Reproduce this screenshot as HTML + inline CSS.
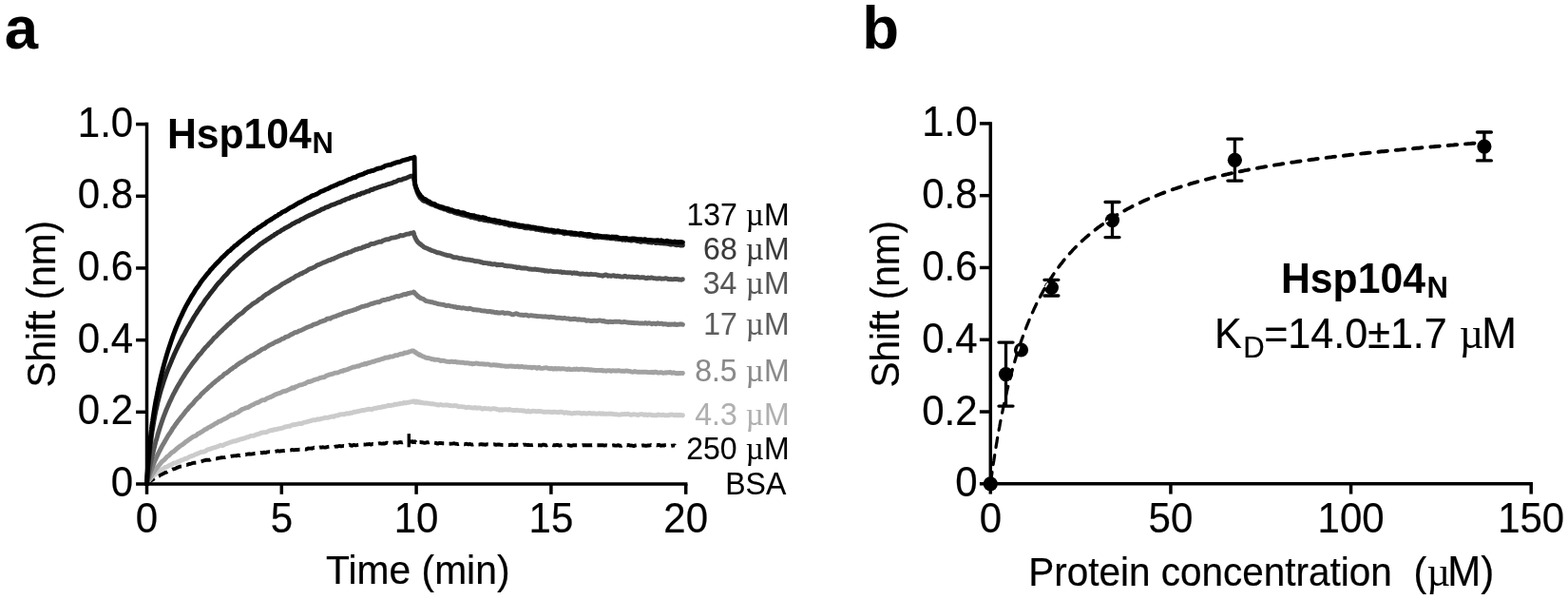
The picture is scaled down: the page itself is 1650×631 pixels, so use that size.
<!DOCTYPE html>
<html lang="en"><head><meta charset="utf-8"><title>Hsp104N binding</title>
<style>html,body{margin:0;padding:0;background:#fff}body{width:1650px;height:631px;overflow:hidden}svg{display:block}text{font-family:"Liberation Sans",sans-serif;fill:#000;stroke:#000;stroke-width:0.2px}.mu{font-family:"Liberation Serif",serif}.b{font-weight:bold}</style></head><body>
<svg width="1650" height="631" viewBox="0 0 1650 631">
<rect width="1650" height="631" fill="#fff"/>
<text x="4.84" y="51.40" font-size="63.5" style="stroke:none" class="b">a</text>
<text x="907.21" y="51.40" font-size="63.5" style="stroke:none" class="b">b</text>
<g id="left-curves" fill="none" stroke-linejoin="round" stroke-linecap="round">
<path d="M154.4,509.0 154.7,508.7 155.0,508.3 155.3,508.0 155.4,508.0 155.6,507.9 155.9,507.9 156.2,507.6 156.4,507.3 156.6,507.2 156.9,507.1 157.2,506.9 157.4,506.6 157.5,506.5 157.8,506.4 158.1,506.1 158.4,505.7 158.7,505.5 159.0,505.2 159.3,505.0 159.4,505.0 159.6,504.9 159.9,504.8 160.2,504.7 160.4,504.6 160.6,504.2 160.9,503.9 161.2,504.0 161.4,503.9 161.5,503.7 161.8,503.4 162.1,503.3 162.4,503.1 162.7,503.1 163.0,502.9 163.3,502.6 163.4,502.7 163.6,502.5 163.9,502.2 164.2,502.1 164.4,502.0 164.6,501.8 164.9,501.6 165.2,501.7 165.4,501.4 165.5,501.3 165.8,501.3 166.1,501.0 166.4,501.0 167.4,500.6 168.4,499.7 169.4,499.1 170.4,498.8 171.4,498.3 172.4,497.8 173.4,497.3 174.4,496.8 175.4,496.6 176.4,496.0 177.4,495.4 178.4,495.0 179.4,494.6 180.4,494.1 181.4,493.6 182.4,493.3 183.4,493.1 184.4,492.9 185.4,492.3 186.4,491.7 187.4,491.6 188.4,491.1 189.4,490.6 190.4,490.6 191.4,490.5 192.4,490.3 193.4,489.8 194.4,489.3 195.4,489.0 196.4,489.0 197.4,488.7 198.4,488.2 199.4,488.0 200.4,487.8 201.4,487.5 202.4,487.1 203.4,486.9 204.4,486.7 205.4,486.7 206.4,486.6 207.4,486.2 208.4,486.0 209.4,485.7 210.4,485.5 211.4,485.4 212.4,485.1 213.4,484.7 214.4,484.5 215.4,484.2 216.4,483.7 217.4,483.7 218.4,483.7 219.4,483.6 220.4,483.8 221.4,483.5 222.4,482.9 223.4,482.9 224.4,482.9 225.4,482.7 226.4,482.4 227.4,482.4 228.4,482.3 229.4,481.9 230.4,481.6 231.4,481.6 232.4,481.3 233.4,481.2 234.4,481.1 235.4,481.1 236.4,481.1 237.4,480.8 238.4,480.5 239.4,480.4 240.4,480.0 241.4,479.7 242.4,479.9 243.4,479.7 244.4,479.6 245.4,479.5 246.4,479.4 247.4,479.4 248.4,479.3 249.4,479.3 250.4,478.8 251.4,478.9 252.4,479.2 253.4,478.9 254.4,478.5 255.4,478.4 256.4,478.1 257.4,478.2 258.4,478.2 259.4,477.9 260.4,477.7 261.4,477.5 262.4,477.3 263.4,477.5 264.4,477.6 265.4,477.4 266.4,477.3 267.4,477.0 268.4,476.8 269.4,476.7 270.4,476.7 271.4,476.6 272.4,476.4 273.4,476.2 274.4,476.0 275.4,476.4 276.4,476.3 277.4,475.8 278.4,475.8 279.4,476.1 280.4,475.7 281.4,475.4 282.4,475.4 283.4,475.1 284.4,475.2 285.4,475.4 286.4,475.2 287.4,474.9 288.4,474.9 289.4,474.9 290.4,474.7 291.4,474.5 292.4,474.2 293.4,474.5 294.4,474.5 295.4,474.3 296.4,474.3 297.4,474.1 298.4,473.9 299.4,474.0 300.4,473.9 301.4,473.7 302.4,473.7 303.4,473.8 304.4,473.8 305.4,473.6 306.4,473.3 307.4,472.9 308.4,473.1 309.4,473.4 310.4,473.1 311.4,473.0 312.4,473.0 313.4,473.0 314.4,472.9 315.4,472.7 316.4,472.7 317.4,472.5 318.4,472.3 319.4,472.5 320.4,472.4 321.4,472.5 322.4,472.6 323.4,472.0 324.4,471.4 325.4,471.6 326.4,471.6 327.4,471.4 328.4,471.7 329.4,471.3 330.4,470.7 331.4,471.0 332.4,471.3 333.4,471.1 334.4,471.0 335.4,470.8 336.4,470.5 337.4,470.5 338.4,470.6 339.4,470.2 340.4,470.4 341.4,470.6 342.4,470.5 343.4,470.3 344.4,470.0 345.4,469.9 346.4,469.8 347.4,470.0 348.4,469.9 349.4,469.9 350.4,470.0 351.4,470.2 352.4,469.8 353.4,469.5 354.4,469.7 355.4,469.5 356.4,469.2 357.4,469.0 358.4,469.3 359.4,469.3 360.4,469.1 361.4,469.0 362.4,469.1 363.4,469.1 364.4,468.5 365.4,468.3 366.4,468.3 367.4,467.8 368.4,467.9 369.4,468.6 370.4,468.7 371.4,468.2 372.4,467.9 373.4,468.3 374.4,468.4 375.4,468.1 376.4,468.0 377.4,467.9 378.4,468.0 379.4,468.0 380.4,467.9 381.4,467.5 382.4,467.5 383.4,467.5 384.4,467.6 385.4,467.4 386.4,467.1 387.4,467.3 388.4,467.0 389.4,467.2 390.4,467.6 391.4,467.2 392.4,467.0 393.4,467.1 394.4,466.5 395.4,466.4 396.4,466.7 397.4,466.6 398.4,466.4 399.4,466.3 400.4,466.4 401.4,466.6 402.4,466.6 403.4,466.3 404.4,466.5 405.4,466.3 406.4,465.9 407.4,465.6 408.4,465.9 409.4,466.3 410.4,466.1 411.4,466.0 412.4,465.8 413.4,465.7 414.4,465.6 415.4,465.4 416.4,465.4 417.4,465.7 418.4,465.7 419.4,465.4 420.4,465.1 421.4,465.0 422.4,465.3 423.4,465.4 424.4,465.1 425.4,464.9 426.4,464.6 427.4,464.6 428.4,464.9 429.4,464.8 430.4,464.5 431.4,464.5 432.4,464.5 433.0,464.2 433.1,464.2 433.3,464.3 433.5,464.5 433.7,464.6 433.9,464.5 434.1,464.9 434.3,464.8 434.5,464.4 434.7,464.5 434.9,464.7 435.1,464.5 435.3,464.6 435.5,465.1 435.7,465.0 435.9,464.6 436.1,464.5 436.3,464.6 436.5,464.6 436.7,464.4 436.9,464.8 437.1,464.8 437.3,464.8 437.5,465.2 437.7,465.1 437.9,465.0 438.1,465.3 438.4,465.2 438.6,464.7 438.8,464.6 439.0,464.7 439.2,465.2 439.4,465.3 439.6,464.9 439.8,464.7 440.0,464.7 440.2,464.9 440.4,465.0 440.6,465.0 440.8,465.1 441.0,465.0 442.0,465.0 443.0,465.2 444.0,465.2 445.0,465.4 446.0,465.7 447.0,465.8 448.0,465.6 449.0,465.2 450.0,465.3 451.0,465.4 452.0,465.1 453.0,465.6 454.0,466.0 455.0,465.9 456.0,465.6 457.0,465.6 458.0,465.8 459.0,466.0 460.0,466.5 461.0,466.5 462.0,466.0 463.0,465.9 464.0,466.0 465.0,466.2 466.0,466.1 467.0,466.2 468.0,466.2 469.0,466.4 470.0,466.8 471.0,466.9 472.0,466.6 473.0,466.6 474.0,466.7 475.0,466.6 476.0,466.6 477.0,466.4 478.0,466.3 479.0,466.7 480.0,466.9 481.0,466.8 482.0,467.1 483.0,466.8 484.0,466.5 485.0,466.9 486.0,467.1 487.0,467.0 488.0,467.2 489.0,467.3 490.0,466.9 491.0,466.7 492.0,467.1 493.0,467.4 494.0,466.9 495.0,467.1 496.0,467.6 497.0,467.6 498.0,467.5 499.0,467.2 500.0,467.1 501.0,467.6 502.0,467.8 503.0,467.6 504.0,467.6 505.0,467.4 506.0,467.2 507.0,467.1 508.0,467.6 509.0,467.5 510.0,467.5 511.0,467.8 512.0,467.4 513.0,467.3 514.0,467.4 515.0,467.5 516.0,467.5 517.0,467.4 518.0,467.5 519.0,467.4 520.0,467.3 521.0,467.5 522.0,467.9 523.0,467.6 524.0,467.5 525.0,467.7 526.0,467.5 527.0,467.8 528.0,467.9 529.0,468.0 530.0,468.0 531.0,467.8 532.0,467.9 533.0,467.7 534.0,467.9 535.0,468.0 536.0,468.0 537.0,468.0 538.0,467.7 539.0,467.7 540.0,467.9 541.0,468.1 542.0,468.0 543.0,467.8 544.0,467.7 545.0,467.8 546.0,467.9 547.0,467.5 548.0,467.7 549.0,468.2 550.0,468.0 551.0,467.6 552.0,467.7 553.0,467.7 554.0,467.9 555.0,468.0 556.0,467.8 557.0,468.1 558.0,468.1 559.0,468.1 560.0,468.0 561.0,467.8 562.0,467.6 563.0,468.2 564.0,468.4 565.0,468.1 566.0,468.2 567.0,468.2 568.0,468.2 569.0,468.5 570.0,468.3 571.0,467.7 572.0,467.8 573.0,467.8 574.0,468.1 575.0,468.5 576.0,468.2 577.0,467.8 578.0,467.9 579.0,468.4 580.0,468.0 581.0,467.9 582.0,468.2 583.0,468.3 584.0,468.3 585.0,468.0 586.0,468.0 587.0,467.8 588.0,468.4 589.0,468.7 590.0,468.4 591.0,468.1 592.0,467.8 593.0,467.9 594.0,468.2 595.0,468.3 596.0,468.3 597.0,468.1 598.0,468.1 599.0,468.3 600.0,468.6 601.0,468.9 602.0,468.6 603.0,468.2 604.0,468.2 605.0,468.2 606.0,468.1 607.0,468.2 608.0,468.2 609.0,468.3 610.0,468.5 611.0,468.4 612.0,468.4 613.0,468.2 614.0,468.1 615.0,468.2 616.0,468.2 617.0,468.3 618.0,468.4 619.0,468.2 620.0,468.2 621.0,468.2 622.0,468.1 623.0,468.2 624.0,468.0 625.0,468.1 626.0,468.5 627.0,468.4 628.0,468.3 629.0,468.3 630.0,468.2 631.0,468.2 632.0,468.3 633.0,468.3 634.0,468.2 635.0,468.3 636.0,468.5 637.0,468.4 638.0,468.3 639.0,468.5 640.0,468.2 641.0,468.2 642.0,468.6 643.0,468.5 644.0,468.6 645.0,468.4 646.0,468.3 647.0,468.5 648.0,468.6 649.0,468.6 650.0,468.2 651.0,468.3 652.0,468.8 653.0,468.8 654.0,468.7 655.0,468.2 656.0,468.4 657.0,468.6 658.0,468.0 659.0,468.1 660.0,468.3 661.0,468.0 662.0,468.1 663.0,468.6 664.0,468.6 665.0,468.5 666.0,468.8 667.0,469.1 668.0,468.7 669.0,468.4 670.0,468.2 671.0,468.1 672.0,468.4 673.0,468.6 674.0,468.6 675.0,468.7 676.0,468.5 677.0,468.3 678.0,468.6 679.0,468.7 680.0,468.8 681.0,468.7 682.0,468.5 683.0,468.5 684.0,468.4 685.0,468.0 686.0,468.3 687.0,468.6 688.0,468.5 689.0,468.2 690.0,468.1 691.0,468.3 692.0,468.2 693.0,467.9 694.0,468.0 695.0,468.6 696.0,468.7 697.0,468.5 698.0,468.4 699.0,468.6 700.0,468.1 701.0,468.0 702.0,468.6 703.0,468.7 704.0,468.9 705.0,469.0 706.0,468.8 707.0,468.6 708.0,468.7 709.0,468.5 710.0,468.4 710.2,468.7" stroke="#000" stroke-width="3.9" stroke-linecap="butt" stroke-dasharray="10.5 5.5"/>
<path d="M430.3,456.1V470.3" stroke="#000" stroke-width="3.4" stroke-linecap="butt"/>
<path d="M154.4,509.0 154.7,508.4 155.0,508.0 155.3,507.5 155.4,507.4 155.6,506.9 155.9,506.3 156.2,506.0 156.4,505.8 156.6,505.7 156.9,505.1 157.2,504.5 157.4,504.4 157.5,504.3 157.8,503.7 158.1,503.5 158.4,503.4 158.7,502.9 159.0,502.5 159.3,502.2 159.4,502.2 159.6,501.9 159.9,501.5 160.2,501.0 160.4,501.0 160.6,500.8 160.9,500.6 161.2,500.4 161.4,500.0 161.5,499.9 161.8,499.7 162.1,499.5 162.4,499.2 162.7,498.8 163.0,498.8 163.3,498.8 163.4,498.9 163.6,498.4 163.9,498.0 164.2,497.9 164.4,497.8 164.6,497.3 164.9,497.1 165.2,497.1 165.4,496.8 165.5,496.5 165.8,496.2 166.1,496.3 166.4,496.1 167.4,495.4 168.4,494.9 169.4,494.3 170.4,493.7 171.4,493.1 172.4,492.5 173.4,491.8 174.4,491.3 175.4,491.0 176.4,490.6 177.4,489.9 178.4,489.3 179.4,488.9 180.4,488.6 181.4,487.9 182.4,487.2 183.4,487.0 184.4,487.0 185.4,486.8 186.4,486.0 187.4,485.5 188.4,485.4 189.4,484.8 190.4,484.1 191.4,483.8 192.4,483.6 193.4,483.1 194.4,482.5 195.4,482.3 196.4,482.2 197.4,481.6 198.4,481.1 199.4,480.3 200.4,479.9 201.4,479.8 202.4,479.3 203.4,479.1 204.4,478.6 205.4,477.8 206.4,477.6 207.4,477.3 208.4,476.8 209.4,476.5 210.4,476.1 211.4,475.5 212.4,475.3 213.4,475.4 214.4,475.0 215.4,474.9 216.4,474.4 217.4,473.4 218.4,472.9 219.4,472.6 220.4,472.4 221.4,472.2 222.4,471.6 223.4,471.3 224.4,471.0 225.4,470.7 226.4,470.6 227.4,470.1 228.4,469.8 229.4,469.4 230.4,469.0 231.4,468.5 232.4,468.2 233.4,468.5 234.4,468.5 235.4,468.0 236.4,467.5 237.4,466.9 238.4,466.7 239.4,466.4 240.4,465.9 241.4,465.5 242.4,465.2 243.4,464.9 244.4,464.5 245.4,464.1 246.4,463.8 247.4,464.0 248.4,463.7 249.4,463.0 250.4,462.8 251.4,462.7 252.4,462.1 253.4,461.7 254.4,461.7 255.4,461.5 256.4,461.0 257.4,460.9 258.4,460.5 259.4,460.0 260.4,459.7 261.4,459.7 262.4,459.1 263.4,458.5 264.4,458.4 265.4,458.4 266.4,458.3 267.4,458.1 268.4,457.5 269.4,457.1 270.4,457.0 271.4,456.5 272.4,456.4 273.4,456.0 274.4,455.3 275.4,455.2 276.4,455.0 277.4,454.7 278.4,454.7 279.4,454.6 280.4,454.5 281.4,454.2 282.4,453.4 283.4,453.0 284.4,452.9 285.4,452.5 286.4,452.5 287.4,452.3 288.4,451.7 289.4,451.6 290.4,451.7 291.4,451.4 292.4,451.2 293.4,451.0 294.4,450.7 295.4,450.5 296.4,450.4 297.4,450.0 298.4,449.7 299.4,449.2 300.4,448.8 301.4,448.8 302.4,448.6 303.4,448.2 304.4,448.2 305.4,448.2 306.4,447.4 307.4,446.9 308.4,446.8 309.4,446.8 310.4,446.5 311.4,446.3 312.4,446.1 313.4,445.9 314.4,445.7 315.4,445.4 316.4,445.4 317.4,445.6 318.4,445.1 319.4,444.3 320.4,444.1 321.4,444.1 322.4,443.8 323.4,443.4 324.4,443.3 325.4,443.0 326.4,442.6 327.4,442.5 328.4,442.1 329.4,441.7 330.4,441.8 331.4,441.8 332.4,441.6 333.4,441.1 334.4,440.8 335.4,441.1 336.4,441.0 337.4,440.6 338.4,440.2 339.4,440.1 340.4,439.9 341.4,439.4 342.4,439.2 343.4,439.4 344.4,439.4 345.4,439.1 346.4,438.8 347.4,438.5 348.4,438.3 349.4,437.9 350.4,438.2 351.4,438.2 352.4,437.5 353.4,437.1 354.4,437.0 355.4,437.1 356.4,436.7 357.4,436.0 358.4,435.8 359.4,435.9 360.4,435.8 361.4,435.8 362.4,435.7 363.4,435.4 364.4,434.9 365.4,434.7 366.4,435.1 367.4,434.9 368.4,434.4 369.4,434.1 370.4,434.2 371.4,433.8 372.4,433.2 373.4,433.3 374.4,433.2 375.4,432.9 376.4,432.6 377.4,432.5 378.4,432.2 379.4,432.1 380.4,431.7 381.4,431.5 382.4,431.7 383.4,431.3 384.4,430.9 385.4,431.0 386.4,430.7 387.4,430.4 388.4,430.2 389.4,430.2 390.4,430.6 391.4,430.6 392.4,430.0 393.4,429.6 394.4,429.4 395.4,429.1 396.4,429.2 397.4,428.8 398.4,428.5 399.4,428.6 400.4,428.4 401.4,428.3 402.4,427.7 403.4,427.6 404.4,427.7 405.4,427.4 406.4,427.2 407.4,426.9 408.4,426.3 409.4,426.4 410.4,426.7 411.4,426.4 412.4,426.1 413.4,426.1 414.4,425.8 415.4,425.3 416.4,425.2 417.4,425.4 418.4,425.0 419.4,424.8 420.4,424.8 421.4,424.2 422.4,424.4 423.4,424.4 424.4,423.7 425.4,423.5 426.4,423.8 427.4,423.9 428.4,423.4 429.4,423.1 430.4,423.2 431.4,422.8 432.4,422.6 433.4,422.5 434.4,422.2 434.8,422.0 434.9,422.2 435.1,422.3 435.3,422.2 435.5,422.1 435.7,422.5 435.9,422.6 436.1,422.6 436.3,422.8 436.5,422.8 436.7,423.0 436.9,422.8 437.1,422.5 437.3,422.7 437.5,422.9 437.7,423.3 437.9,422.6 438.1,422.1 438.3,422.7 438.5,423.0 438.7,423.1 438.9,422.9 439.1,422.9 439.3,423.1 439.5,423.0 439.7,423.1 439.9,422.7 440.2,422.7 440.4,422.9 440.6,423.0 440.8,423.2 441.0,422.9 441.2,423.0 441.4,423.0 441.6,422.8 441.8,422.7 442.0,422.9 442.2,423.3 442.4,423.5 442.6,423.4 442.8,423.5 443.0,423.5 444.0,423.4 445.0,423.7 446.0,424.0 447.0,424.0 448.0,423.8 449.0,424.0 450.0,424.2 451.0,424.1 452.0,424.4 453.0,424.6 454.0,424.7 455.0,424.7 456.0,424.8 457.0,425.1 458.0,425.1 459.0,425.5 460.0,425.8 461.0,425.8 462.0,426.0 463.0,425.7 464.0,425.5 465.0,425.8 466.0,426.0 467.0,426.1 468.0,426.1 469.0,425.8 470.0,426.0 471.0,426.0 472.0,426.2 473.0,426.6 474.0,426.5 475.0,426.7 476.0,426.9 477.0,426.8 478.0,426.5 479.0,426.7 480.0,426.7 481.0,426.8 482.0,427.6 483.0,427.7 484.0,427.6 485.0,427.6 486.0,427.6 487.0,427.9 488.0,427.9 489.0,428.2 490.0,428.6 491.0,428.6 492.0,428.4 493.0,428.2 494.0,428.4 495.0,428.6 496.0,428.8 497.0,428.9 498.0,429.1 499.0,428.8 500.0,428.5 501.0,429.1 502.0,429.2 503.0,428.9 504.0,429.0 505.0,429.0 506.0,429.1 507.0,430.0 508.0,430.2 509.0,429.6 510.0,429.3 511.0,429.5 512.0,429.9 513.0,429.9 514.0,429.6 515.0,430.0 516.0,430.4 517.0,430.2 518.0,429.9 519.0,429.7 520.0,429.9 521.0,429.8 522.0,430.1 523.0,430.5 524.0,430.5 525.0,431.1 526.0,431.3 527.0,430.7 528.0,430.7 529.0,431.2 530.0,431.0 531.0,430.6 532.0,430.8 533.0,430.7 534.0,431.1 535.0,431.0 536.0,430.5 537.0,431.0 538.0,431.2 539.0,431.4 540.0,431.5 541.0,431.5 542.0,431.7 543.0,431.4 544.0,431.2 545.0,431.6 546.0,431.6 547.0,431.9 548.0,431.7 549.0,431.6 550.0,432.0 551.0,432.2 552.0,432.0 553.0,432.4 554.0,433.0 555.0,432.4 556.0,432.0 557.0,432.9 558.0,433.0 559.0,432.6 560.0,432.4 561.0,432.3 562.0,432.4 563.0,432.4 564.0,432.6 565.0,432.7 566.0,432.5 567.0,432.4 568.0,432.5 569.0,432.6 570.0,432.7 571.0,433.1 572.0,433.3 573.0,433.2 574.0,433.2 575.0,433.2 576.0,433.1 577.0,433.1 578.0,433.3 579.0,433.2 580.0,433.4 581.0,433.6 582.0,433.3 583.0,433.2 584.0,433.3 585.0,433.4 586.0,433.5 587.0,433.7 588.0,433.7 589.0,433.1 590.0,433.1 591.0,433.2 592.0,433.4 593.0,434.1 594.0,434.3 595.0,433.8 596.0,433.6 597.0,434.2 598.0,434.5 599.0,434.2 600.0,434.4 601.0,434.9 602.0,435.0 603.0,434.6 604.0,434.4 605.0,434.5 606.0,434.4 607.0,434.1 608.0,434.3 609.0,434.3 610.0,434.3 611.0,434.6 612.0,435.1 613.0,434.9 614.0,434.5 615.0,434.7 616.0,434.8 617.0,435.1 618.0,434.9 619.0,434.6 620.0,434.4 621.0,434.4 622.0,434.9 623.0,435.1 624.0,434.8 625.0,434.7 626.0,435.0 627.0,435.2 628.0,435.1 629.0,435.0 630.0,434.8 631.0,434.6 632.0,435.3 633.0,435.1 634.0,434.8 635.0,435.3 636.0,435.3 637.0,435.1 638.0,435.2 639.0,435.4 640.0,435.4 641.0,435.0 642.0,435.1 643.0,435.3 644.0,435.2 645.0,435.5 646.0,435.7 647.0,435.9 648.0,435.7 649.0,435.7 650.0,436.1 651.0,436.1 652.0,436.2 653.0,436.0 654.0,435.7 655.0,435.9 656.0,435.7 657.0,435.5 658.0,435.7 659.0,435.6 660.0,435.4 661.0,435.3 662.0,435.7 663.0,436.1 664.0,436.3 665.0,436.1 666.0,435.9 667.0,435.8 668.0,435.9 669.0,436.0 670.0,436.1 671.0,436.5 672.0,436.4 673.0,435.8 674.0,435.6 675.0,435.6 676.0,435.6 677.0,436.2 678.0,436.5 679.0,435.9 680.0,436.0 681.0,436.6 682.0,436.4 683.0,436.0 684.0,436.0 685.0,436.3 686.0,436.5 687.0,436.7 688.0,436.8 689.0,436.8 690.0,436.9 691.0,436.8 692.0,436.2 693.0,436.0 694.0,436.4 695.0,436.4 696.0,436.5 697.0,436.5 698.0,436.2 699.0,436.6 700.0,436.9 701.0,436.7 702.0,436.7 703.0,436.9 704.0,436.8 705.0,436.1 706.0,435.9 707.0,436.3 708.0,436.3 709.0,436.4 710.0,436.9 711.0,436.7 712.0,436.3 713.0,436.8 714.0,436.9 715.0,436.3 716.0,436.4 717.0,436.8 718.0,436.6 718.4,436.7" stroke="#cbcbcb" stroke-width="4.9"/>
<path d="M154.4,509.0 154.7,508.4 155.0,507.7 155.3,507.1 155.4,507.0 155.6,506.7 155.9,506.1 156.2,505.4 156.4,505.2 156.6,504.8 156.9,504.3 157.2,503.9 157.4,503.5 157.5,503.3 157.8,502.7 158.1,502.1 158.4,501.6 158.7,501.2 159.0,500.8 159.3,500.3 159.4,500.2 159.6,499.9 159.9,499.3 160.2,498.6 160.4,498.3 160.6,498.0 160.9,497.8 161.2,497.4 161.4,497.0 161.5,497.1 161.8,496.7 162.1,496.3 162.4,495.7 162.7,495.1 163.0,494.7 163.3,494.3 163.4,494.2 163.6,493.9 163.9,493.6 164.2,493.1 164.4,492.8 164.6,492.6 164.9,492.2 165.2,492.0 165.4,491.7 165.5,491.6 165.8,491.1 166.1,490.7 166.4,490.4 167.4,489.2 168.4,488.1 169.4,486.7 170.4,485.5 171.4,484.7 172.4,484.0 173.4,483.0 174.4,481.9 175.4,480.7 176.4,479.9 177.4,479.4 178.4,478.3 179.4,477.2 180.4,476.2 181.4,475.5 182.4,475.1 183.4,474.3 184.4,473.3 185.4,472.5 186.4,471.5 187.4,470.8 188.4,470.0 189.4,469.1 190.4,468.5 191.4,467.9 192.4,467.2 193.4,466.5 194.4,465.6 195.4,464.7 196.4,464.1 197.4,463.5 198.4,462.7 199.4,461.9 200.4,461.3 201.4,460.6 202.4,459.8 203.4,459.2 204.4,458.8 205.4,458.4 206.4,458.0 207.4,457.1 208.4,456.1 209.4,455.8 210.4,455.3 211.4,454.5 212.4,454.1 213.4,453.5 214.4,452.6 215.4,451.8 216.4,451.4 217.4,451.1 218.4,450.2 219.4,449.5 220.4,449.2 221.4,448.8 222.4,448.0 223.4,447.5 224.4,447.1 225.4,446.2 226.4,445.5 227.4,445.2 228.4,444.7 229.4,443.8 230.4,443.2 231.4,443.1 232.4,442.8 233.4,441.9 234.4,441.5 235.4,441.1 236.4,440.3 237.4,440.1 238.4,439.6 239.4,438.9 240.4,438.1 241.4,437.6 242.4,437.2 243.4,436.2 244.4,436.2 245.4,436.2 246.4,435.5 247.4,434.8 248.4,434.2 249.4,434.1 250.4,433.6 251.4,432.9 252.4,432.0 253.4,431.5 254.4,430.8 255.4,430.1 256.4,430.0 257.4,429.6 258.4,429.1 259.4,428.7 260.4,428.6 261.4,428.3 262.4,427.5 263.4,427.1 264.4,426.5 265.4,425.8 266.4,425.6 267.4,425.0 268.4,424.4 269.4,423.9 270.4,423.5 271.4,423.5 272.4,422.9 273.4,422.2 274.4,421.8 275.4,421.1 276.4,420.6 277.4,420.6 278.4,420.7 279.4,420.1 280.4,419.2 281.4,418.8 282.4,418.4 283.4,418.0 284.4,417.7 285.4,417.2 286.4,416.8 287.4,416.3 288.4,415.7 289.4,415.1 290.4,414.7 291.4,414.3 292.4,414.0 293.4,413.6 294.4,413.3 295.4,413.1 296.4,412.4 297.4,411.8 298.4,411.5 299.4,411.3 300.4,411.3 301.4,411.0 302.4,410.3 303.4,410.0 304.4,409.4 305.4,409.0 306.4,408.8 307.4,407.7 308.4,407.8 309.4,408.1 310.4,407.2 311.4,406.6 312.4,406.3 313.4,405.9 314.4,405.4 315.4,404.9 316.4,404.8 317.4,404.6 318.4,404.3 319.4,403.9 320.4,403.7 321.4,403.3 322.4,402.6 323.4,402.0 324.4,401.4 325.4,401.6 326.4,401.3 327.4,400.8 328.4,400.6 329.4,400.0 330.4,399.6 331.4,399.3 332.4,398.9 333.4,398.8 334.4,398.6 335.4,398.1 336.4,397.5 337.4,397.3 338.4,397.0 339.4,396.8 340.4,396.9 341.4,396.6 342.4,395.8 343.4,395.3 344.4,394.8 345.4,394.4 346.4,394.0 347.4,393.8 348.4,393.5 349.4,393.4 350.4,393.1 351.4,392.6 352.4,392.1 353.4,392.1 354.4,392.1 355.4,391.8 356.4,391.5 357.4,391.1 358.4,390.6 359.4,390.2 360.4,390.4 361.4,389.7 362.4,389.2 363.4,389.3 364.4,388.9 365.4,388.5 366.4,388.3 367.4,387.7 368.4,387.3 369.4,387.0 370.4,386.5 371.4,386.2 372.4,386.0 373.4,385.8 374.4,385.6 375.4,385.1 376.4,385.0 377.4,385.2 378.4,384.6 379.4,384.1 380.4,383.7 381.4,383.5 382.4,383.3 383.4,382.7 384.4,382.4 385.4,382.9 386.4,382.2 387.4,381.6 388.4,381.7 389.4,381.2 390.4,381.1 391.4,380.6 392.4,380.1 393.4,380.3 394.4,379.9 395.4,379.3 396.4,379.1 397.4,378.8 398.4,378.8 399.4,378.4 400.4,378.0 401.4,377.7 402.4,377.4 403.4,377.3 404.4,376.5 405.4,376.2 406.4,376.2 407.4,375.9 408.4,376.1 409.4,375.7 410.4,375.0 411.4,375.1 412.4,375.1 413.4,374.8 414.4,374.6 415.4,373.9 416.4,373.6 417.4,373.7 418.4,373.6 419.4,373.1 420.4,372.7 421.4,372.4 422.4,372.1 423.4,372.2 424.4,372.0 425.4,371.2 426.4,370.9 427.4,371.0 428.4,370.9 429.4,370.5 430.4,370.0 431.4,369.8 432.4,369.4 433.4,368.9 434.4,369.1 435.2,369.0 435.2,369.0 435.5,369.3 435.7,369.6 435.9,369.6 436.1,369.9 436.3,370.2 436.5,370.0 436.7,370.2 436.9,370.5 437.1,370.4 437.3,370.5 437.5,370.8 437.7,370.7 437.9,370.8 438.1,371.2 438.3,371.3 438.5,371.2 438.7,371.4 438.9,371.7 439.1,371.9 439.3,371.9 439.5,372.1 439.7,372.2 439.9,372.2 440.1,372.7 440.3,372.7 440.6,372.6 440.8,372.9 441.0,373.1 441.2,373.0 441.4,373.2 441.6,373.5 441.8,373.2 442.0,373.1 442.2,373.3 442.4,373.4 442.6,373.5 442.8,373.6 443.0,373.9 443.2,374.0 444.0,374.3 445.0,374.9 446.0,375.2 447.0,375.5 448.0,376.2 449.0,376.5 450.0,376.4 451.0,376.6 452.0,376.8 453.0,377.1 454.0,377.7 455.0,377.7 456.0,377.7 457.0,378.2 458.0,378.3 459.0,378.3 460.0,378.4 461.0,378.4 462.0,378.6 463.0,379.3 464.0,379.5 465.0,379.1 466.0,379.2 467.0,379.4 468.0,379.7 469.0,379.9 470.0,380.3 471.0,380.4 472.0,380.4 473.0,380.5 474.0,380.5 475.0,380.2 476.0,380.2 477.0,380.6 478.0,380.6 479.0,380.3 480.0,380.6 481.0,381.1 482.0,380.9 483.0,381.0 484.0,381.1 485.0,381.4 486.0,381.2 487.0,381.1 488.0,381.5 489.0,381.8 490.0,381.7 491.0,381.7 492.0,381.6 493.0,381.8 494.0,382.3 495.0,382.2 496.0,382.3 497.0,382.8 498.0,382.5 499.0,382.5 500.0,382.4 501.0,382.0 502.0,382.1 503.0,382.5 504.0,382.7 505.0,382.8 506.0,382.9 507.0,382.7 508.0,382.8 509.0,383.1 510.0,382.9 511.0,383.2 512.0,383.1 513.0,383.0 514.0,383.1 515.0,383.5 516.0,383.9 517.0,384.0 518.0,383.8 519.0,383.6 520.0,383.7 521.0,384.0 522.0,383.8 523.0,384.1 524.0,384.4 525.0,384.1 526.0,384.3 527.0,384.8 528.0,384.8 529.0,384.9 530.0,384.9 531.0,385.0 532.0,385.3 533.0,385.1 534.0,385.2 535.0,385.3 536.0,385.1 537.0,385.0 538.0,385.0 539.0,385.4 540.0,385.2 541.0,385.3 542.0,385.6 543.0,385.6 544.0,385.2 545.0,385.2 546.0,385.8 547.0,385.7 548.0,385.7 549.0,385.4 550.0,385.6 551.0,386.0 552.0,386.1 553.0,385.9 554.0,385.9 555.0,386.3 556.0,386.4 557.0,386.3 558.0,386.1 559.0,386.7 560.0,386.8 561.0,386.2 562.0,386.4 563.0,386.4 564.0,386.7 565.0,387.3 566.0,387.0 567.0,386.3 568.0,386.8 569.0,387.4 570.0,387.4 571.0,387.4 572.0,387.1 573.0,386.9 574.0,386.9 575.0,386.6 576.0,387.2 577.0,387.4 578.0,387.7 579.0,387.9 580.0,387.3 581.0,387.5 582.0,388.1 583.0,388.0 584.0,387.5 585.0,387.5 586.0,388.1 587.0,387.9 588.0,387.5 589.0,387.9 590.0,388.1 591.0,387.7 592.0,387.6 593.0,387.8 594.0,387.9 595.0,388.1 596.0,388.4 597.0,388.5 598.0,388.0 599.0,388.0 600.0,388.5 601.0,388.6 602.0,388.6 603.0,388.5 604.0,388.1 605.0,388.4 606.0,388.5 607.0,387.9 608.0,388.3 609.0,388.7 610.0,388.4 611.0,388.3 612.0,388.2 613.0,388.2 614.0,388.5 615.0,388.8 616.0,388.5 617.0,388.6 618.0,388.8 619.0,388.5 620.0,388.9 621.0,389.2 622.0,388.8 623.0,389.2 624.0,389.4 625.0,389.1 626.0,389.3 627.0,389.6 628.0,389.5 629.0,389.4 630.0,389.4 631.0,389.5 632.0,389.5 633.0,389.3 634.0,389.8 635.0,390.0 636.0,389.7 637.0,390.1 638.0,390.2 639.0,389.6 640.0,389.7 641.0,389.7 642.0,389.8 643.0,390.3 644.0,390.0 645.0,389.7 646.0,389.9 647.0,390.0 648.0,389.8 649.0,390.0 650.0,389.8 651.0,389.7 652.0,390.0 653.0,390.1 654.0,390.3 655.0,390.1 656.0,390.2 657.0,390.5 658.0,390.2 659.0,390.0 660.0,390.0 661.0,390.3 662.0,390.4 663.0,390.4 664.0,390.9 665.0,391.1 666.0,391.2 667.0,391.0 668.0,390.5 669.0,390.8 670.0,391.1 671.0,391.2 672.0,391.1 673.0,391.2 674.0,391.4 675.0,391.3 676.0,391.3 677.0,391.3 678.0,391.2 679.0,391.2 680.0,391.4 681.0,391.3 682.0,391.5 683.0,391.6 684.0,391.5 685.0,391.5 686.0,391.3 687.0,391.8 688.0,391.8 689.0,391.2 690.0,391.1 691.0,391.3 692.0,392.0 693.0,392.1 694.0,391.9 695.0,391.7 696.0,391.6 697.0,392.0 698.0,392.3 699.0,392.1 700.0,391.8 701.0,392.1 702.0,391.8 703.0,391.7 704.0,391.9 705.0,391.5 706.0,391.7 707.0,392.3 708.0,392.1 709.0,391.8 710.0,392.2 711.0,392.6 712.0,392.5 713.0,392.8 714.0,392.5 715.0,392.4 716.0,392.5 717.0,392.4 718.0,392.4 718.4,392.5" stroke="#a2a2a2" stroke-width="4.9"/>
<path d="M154.4,509.0 154.7,507.8 155.0,506.8 155.3,505.8 155.4,505.5 155.6,504.8 155.9,503.8 156.2,502.8 156.4,502.3 156.6,502.0 156.9,501.1 157.2,500.1 157.4,499.4 157.5,499.2 157.8,498.4 158.1,497.3 158.4,496.5 158.7,495.6 159.0,494.9 159.3,494.0 159.4,493.8 159.6,493.2 159.9,492.3 160.2,491.5 160.4,491.2 160.6,490.8 160.9,489.9 161.2,489.2 161.4,488.7 161.5,488.4 161.8,487.6 162.1,486.8 162.4,486.1 162.7,485.5 163.0,484.7 163.3,484.0 163.4,483.8 163.6,483.3 163.9,482.6 164.2,482.1 164.4,481.6 164.6,481.1 164.9,480.6 165.2,479.9 165.4,479.4 165.5,479.2 165.8,478.5 166.1,478.0 166.4,477.4 167.4,475.3 168.4,473.3 169.4,471.4 170.4,469.4 171.4,467.6 172.4,466.0 173.4,464.2 174.4,462.5 175.4,460.9 176.4,459.1 177.4,457.4 178.4,456.0 179.4,454.6 180.4,452.9 181.4,451.2 182.4,449.7 183.4,448.4 184.4,446.9 185.4,445.5 186.4,444.1 187.4,442.7 188.4,441.5 189.4,440.3 190.4,438.9 191.4,437.7 192.4,436.5 193.4,435.2 194.4,433.9 195.4,432.6 196.4,431.6 197.4,430.6 198.4,429.1 199.4,427.9 200.4,427.0 201.4,425.9 202.4,424.9 203.4,423.9 204.4,422.6 205.4,421.3 206.4,420.2 207.4,419.2 208.4,418.3 209.4,417.6 210.4,416.5 211.4,415.0 212.4,414.0 213.4,413.2 214.4,412.2 215.4,411.1 216.4,410.3 217.4,409.5 218.4,408.6 219.4,407.5 220.4,406.7 221.4,405.9 222.4,404.9 223.4,403.9 224.4,403.0 225.4,402.4 226.4,401.4 227.4,400.5 228.4,399.9 229.4,399.1 230.4,398.2 231.4,397.3 232.4,396.6 233.4,396.1 234.4,395.2 235.4,394.0 236.4,393.1 237.4,392.7 238.4,392.3 239.4,391.4 240.4,390.6 241.4,389.8 242.4,388.9 243.4,388.2 244.4,387.6 245.4,386.7 246.4,386.0 247.4,385.7 248.4,384.7 249.4,383.7 250.4,383.2 251.4,382.6 252.4,381.6 253.4,381.1 254.4,380.8 255.4,379.9 256.4,379.5 257.4,379.0 258.4,377.9 259.4,377.3 260.4,376.6 261.4,375.9 262.4,375.5 263.4,374.9 264.4,374.1 265.4,373.8 266.4,373.4 267.4,372.7 268.4,372.0 269.4,371.4 270.4,370.9 271.4,370.3 272.4,369.8 273.4,369.1 274.4,368.2 275.4,367.6 276.4,367.0 277.4,366.7 278.4,366.4 279.4,365.7 280.4,364.9 281.4,364.4 282.4,363.8 283.4,363.1 284.4,362.7 285.4,362.1 286.4,361.6 287.4,361.3 288.4,360.6 289.4,360.0 290.4,359.4 291.4,359.3 292.4,358.7 293.4,358.2 294.4,358.0 295.4,357.2 296.4,356.5 297.4,356.2 298.4,356.1 299.4,355.3 300.4,354.5 301.4,354.3 302.4,353.9 303.4,353.6 304.4,353.0 305.4,352.3 306.4,351.7 307.4,351.5 308.4,351.1 309.4,350.0 310.4,349.7 311.4,349.5 312.4,349.3 313.4,348.9 314.4,348.1 315.4,347.8 316.4,347.6 317.4,347.1 318.4,346.6 319.4,346.2 320.4,345.6 321.4,345.1 322.4,344.7 323.4,344.1 324.4,343.9 325.4,343.4 326.4,343.0 327.4,342.9 328.4,342.3 329.4,341.6 330.4,341.2 331.4,341.0 332.4,340.7 333.4,340.3 334.4,339.9 335.4,339.4 336.4,338.8 337.4,338.3 338.4,338.0 339.4,337.8 340.4,337.3 341.4,337.0 342.4,336.8 343.4,335.8 344.4,335.3 345.4,335.2 346.4,334.9 347.4,335.2 348.4,334.5 349.4,333.8 350.4,333.5 351.4,333.1 352.4,332.9 353.4,332.7 354.4,332.1 355.4,331.7 356.4,331.4 357.4,330.8 358.4,330.8 359.4,330.5 360.4,329.8 361.4,329.2 362.4,329.0 363.4,328.7 364.4,328.6 365.4,328.1 366.4,327.6 367.4,327.6 368.4,327.2 369.4,326.9 370.4,326.7 371.4,326.4 372.4,325.9 373.4,325.6 374.4,325.4 375.4,324.7 376.4,324.3 377.4,324.2 378.4,323.6 379.4,323.2 380.4,322.6 381.4,322.4 382.4,322.2 383.4,322.1 384.4,321.6 385.4,321.4 386.4,321.4 387.4,320.8 388.4,320.4 389.4,320.0 390.4,319.6 391.4,319.3 392.4,319.2 393.4,318.9 394.4,318.4 395.4,318.1 396.4,317.9 397.4,317.6 398.4,317.8 399.4,317.6 400.4,316.9 401.4,316.2 402.4,315.8 403.4,315.5 404.4,315.5 405.4,315.4 406.4,315.0 407.4,314.7 408.4,314.4 409.4,314.5 410.4,314.1 411.4,313.5 412.4,313.2 413.4,313.1 414.4,312.8 415.4,312.2 416.4,311.8 417.4,311.5 418.4,311.5 419.4,311.9 420.4,311.4 421.4,310.9 422.4,310.8 423.4,310.2 424.4,309.8 425.4,309.7 426.4,309.4 427.4,309.5 428.4,309.0 429.4,308.5 430.4,308.6 431.4,308.2 432.4,307.9 433.4,307.9 434.4,307.6 435.4,307.3 435.5,307.3 435.6,307.1 435.8,307.4 436.0,308.1 436.2,308.3 436.4,308.4 436.6,308.4 436.8,308.5 437.0,308.8 437.2,308.9 437.4,309.3 437.6,309.5 437.8,309.6 438.0,309.7 438.2,309.8 438.4,310.2 438.6,310.4 438.8,310.5 439.0,310.9 439.2,311.0 439.4,310.9 439.6,311.1 439.8,311.5 440.0,312.0 440.2,312.1 440.4,311.9 440.6,311.9 440.9,312.3 441.1,312.4 441.3,312.6 441.5,313.0 441.7,313.0 441.9,313.0 442.1,313.2 442.3,313.5 442.5,313.3 442.7,313.4 442.9,313.6 443.1,313.5 443.3,313.7 443.5,313.9 444.0,314.0 445.0,314.3 446.0,314.7 447.0,315.6 448.0,316.5 449.0,316.7 450.0,316.9 451.0,317.1 452.0,317.2 453.0,317.6 454.0,317.7 455.0,317.8 456.0,318.2 457.0,318.6 458.0,318.6 459.0,319.0 460.0,319.3 461.0,319.7 462.0,319.9 463.0,319.9 464.0,320.1 465.0,320.3 466.0,320.4 467.0,320.5 468.0,321.0 469.0,321.3 470.0,321.6 471.0,321.4 472.0,321.2 473.0,321.6 474.0,321.9 475.0,322.1 476.0,322.1 477.0,322.5 478.0,322.8 479.0,322.6 480.0,323.0 481.0,323.5 482.0,323.3 483.0,323.4 484.0,323.6 485.0,323.8 486.0,324.0 487.0,323.8 488.0,323.9 489.0,324.1 490.0,324.3 491.0,324.6 492.0,324.7 493.0,324.7 494.0,324.2 495.0,324.4 496.0,324.9 497.0,325.1 498.0,325.8 499.0,325.9 500.0,325.7 501.0,325.8 502.0,326.0 503.0,326.0 504.0,326.1 505.0,326.1 506.0,326.6 507.0,326.9 508.0,326.9 509.0,327.0 510.0,327.0 511.0,327.1 512.0,327.3 513.0,327.6 514.0,327.7 515.0,327.5 516.0,327.4 517.0,328.0 518.0,328.2 519.0,327.9 520.0,328.4 521.0,328.7 522.0,328.7 523.0,328.5 524.0,329.0 525.0,329.2 526.0,329.0 527.0,329.0 528.0,328.7 529.0,328.6 530.0,329.0 531.0,329.5 532.0,329.4 533.0,329.2 534.0,329.1 535.0,329.4 536.0,329.5 537.0,329.8 538.0,330.4 539.0,330.9 540.0,330.9 541.0,330.3 542.0,330.1 543.0,329.6 544.0,329.8 545.0,330.5 546.0,330.9 547.0,331.1 548.0,331.2 549.0,331.2 550.0,331.3 551.0,331.6 552.0,331.4 553.0,331.1 554.0,331.1 555.0,331.6 556.0,332.2 557.0,332.1 558.0,331.7 559.0,331.7 560.0,332.0 561.0,332.0 562.0,332.1 563.0,332.3 564.0,332.3 565.0,332.5 566.0,332.7 567.0,332.6 568.0,332.6 569.0,332.6 570.0,332.9 571.0,333.0 572.0,333.0 573.0,333.1 574.0,332.8 575.0,333.1 576.0,333.3 577.0,333.3 578.0,333.7 579.0,333.3 580.0,333.2 581.0,333.5 582.0,333.6 583.0,333.5 584.0,333.9 585.0,334.2 586.0,334.2 587.0,334.3 588.0,334.3 589.0,334.3 590.0,334.4 591.0,334.7 592.0,334.8 593.0,334.7 594.0,334.5 595.0,334.7 596.0,335.1 597.0,335.1 598.0,335.0 599.0,335.2 600.0,335.9 601.0,335.8 602.0,335.5 603.0,335.7 604.0,335.2 605.0,335.2 606.0,335.7 607.0,336.0 608.0,336.2 609.0,335.8 610.0,335.9 611.0,336.2 612.0,336.2 613.0,336.2 614.0,336.1 615.0,336.2 616.0,336.7 617.0,337.2 618.0,337.2 619.0,337.0 620.0,337.1 621.0,337.3 622.0,337.5 623.0,337.6 624.0,337.3 625.0,337.2 626.0,337.3 627.0,337.4 628.0,337.5 629.0,337.3 630.0,336.9 631.0,337.0 632.0,337.1 633.0,337.3 634.0,337.8 635.0,337.5 636.0,337.7 637.0,338.2 638.0,338.2 639.0,338.4 640.0,338.8 641.0,338.3 642.0,338.1 643.0,338.5 644.0,338.5 645.0,338.6 646.0,338.4 647.0,338.2 648.0,338.2 649.0,338.2 650.0,338.4 651.0,338.3 652.0,338.2 653.0,338.6 654.0,338.9 655.0,338.9 656.0,338.6 657.0,338.4 658.0,338.7 659.0,338.9 660.0,339.0 661.0,339.2 662.0,339.3 663.0,339.2 664.0,339.3 665.0,339.5 666.0,339.4 667.0,339.5 668.0,339.8 669.0,339.6 670.0,339.6 671.0,339.7 672.0,339.9 673.0,340.1 674.0,340.0 675.0,340.0 676.0,340.0 677.0,340.1 678.0,340.1 679.0,339.5 680.0,339.8 681.0,340.3 682.0,339.9 683.0,339.8 684.0,339.9 685.0,340.4 686.0,340.8 687.0,340.1 688.0,340.1 689.0,340.4 690.0,340.7 691.0,340.6 692.0,339.8 693.0,340.1 694.0,340.5 695.0,340.4 696.0,340.1 697.0,340.3 698.0,341.1 699.0,340.7 700.0,340.6 701.0,341.0 702.0,341.2 703.0,341.5 704.0,341.0 705.0,341.2 706.0,341.3 707.0,341.0 708.0,341.1 709.0,341.2 710.0,340.7 711.0,341.2 712.0,341.6 713.0,341.1 714.0,341.2 715.0,341.1 716.0,340.8 717.0,341.0 718.0,341.2 718.4,341.3" stroke="#7a7a7a" stroke-width="4.9"/>
<path d="M154.4,509.0 154.7,507.1 155.0,505.3 155.3,503.6 155.4,503.2 155.6,501.9 155.9,500.3 156.2,498.6 156.4,497.7 156.6,496.9 156.9,495.4 157.2,493.8 157.4,492.7 157.5,492.2 157.8,490.7 158.1,489.3 158.4,487.7 158.7,486.3 159.0,484.9 159.3,483.4 159.4,483.1 159.6,482.0 159.9,480.6 160.2,479.3 160.4,478.7 160.6,478.1 160.9,476.7 161.2,475.4 161.4,474.4 161.5,474.0 161.8,472.8 162.1,471.6 162.4,470.4 162.7,469.2 163.0,467.8 163.3,466.7 163.4,466.4 163.6,465.5 163.9,464.2 164.2,463.2 164.4,462.8 164.6,462.2 164.9,461.1 165.2,460.1 165.4,459.2 165.5,458.9 165.8,457.8 166.1,456.7 166.4,455.7 167.4,452.5 168.4,449.2 169.4,446.2 170.4,443.3 171.4,440.4 172.4,437.7 173.4,435.1 174.4,432.5 175.4,430.0 176.4,427.8 177.4,425.5 178.4,423.1 179.4,421.1 180.4,419.0 181.4,416.8 182.4,414.7 183.4,412.9 184.4,411.0 185.4,409.1 186.4,407.2 187.4,405.5 188.4,403.9 189.4,402.2 190.4,400.4 191.4,398.8 192.4,397.2 193.4,395.7 194.4,394.0 195.4,392.4 196.4,391.0 197.4,389.5 198.4,388.1 199.4,386.7 200.4,385.3 201.4,383.9 202.4,382.5 203.4,381.1 204.4,380.0 205.4,378.7 206.4,377.5 207.4,376.1 208.4,374.6 209.4,373.5 210.4,372.4 211.4,371.4 212.4,370.2 213.4,368.8 214.4,367.6 215.4,366.5 216.4,365.1 217.4,364.3 218.4,363.4 219.4,362.1 220.4,361.0 221.4,360.1 222.4,359.0 223.4,357.8 224.4,356.6 225.4,355.3 226.4,354.6 227.4,353.8 228.4,352.7 229.4,351.6 230.4,350.6 231.4,349.5 232.4,348.6 233.4,347.8 234.4,346.7 235.4,345.8 236.4,344.9 237.4,343.9 238.4,343.0 239.4,341.9 240.4,340.9 241.4,340.4 242.4,339.4 243.4,338.2 244.4,337.5 245.4,336.8 246.4,335.9 247.4,334.7 248.4,333.8 249.4,333.0 250.4,332.0 251.4,331.4 252.4,330.6 253.4,329.8 254.4,329.4 255.4,328.6 256.4,327.5 257.4,326.5 258.4,325.5 259.4,324.7 260.4,324.0 261.4,323.2 262.4,322.4 263.4,321.7 264.4,320.9 265.4,320.0 266.4,319.2 267.4,318.7 268.4,318.1 269.4,317.5 270.4,316.9 271.4,316.0 272.4,315.2 273.4,314.4 274.4,313.9 275.4,313.5 276.4,312.5 277.4,311.5 278.4,310.9 279.4,310.1 280.4,309.3 281.4,308.9 282.4,308.4 283.4,307.6 284.4,307.0 285.4,306.3 286.4,305.5 287.4,305.0 288.4,304.2 289.4,303.7 290.4,303.0 291.4,302.6 292.4,302.0 293.4,301.4 294.4,300.7 295.4,299.9 296.4,299.3 297.4,298.4 298.4,298.0 299.4,297.7 300.4,296.9 301.4,296.4 302.4,295.9 303.4,295.2 304.4,294.7 305.4,294.2 306.4,293.4 307.4,292.9 308.4,292.7 309.4,291.9 310.4,291.1 311.4,290.4 312.4,289.8 313.4,289.6 314.4,289.2 315.4,288.4 316.4,287.8 317.4,287.7 318.4,287.2 319.4,286.4 320.4,286.1 321.4,285.7 322.4,285.0 323.4,284.4 324.4,283.7 325.4,283.1 326.4,282.7 327.4,282.4 328.4,282.0 329.4,281.6 330.4,281.1 331.4,280.6 332.4,279.9 333.4,279.1 334.4,278.7 335.4,278.4 336.4,278.0 337.4,277.6 338.4,277.1 339.4,276.5 340.4,276.2 341.4,275.9 342.4,275.4 343.4,275.0 344.4,274.6 345.4,274.0 346.4,273.6 347.4,273.6 348.4,273.0 349.4,272.5 350.4,272.4 351.4,272.0 352.4,271.3 353.4,270.9 354.4,270.7 355.4,269.9 356.4,269.5 357.4,269.2 358.4,268.8 359.4,268.3 360.4,268.1 361.4,267.6 362.4,266.9 363.4,266.7 364.4,266.6 365.4,266.3 366.4,265.6 367.4,265.2 368.4,265.1 369.4,264.8 370.4,264.2 371.4,263.6 372.4,263.4 373.4,262.7 374.4,262.3 375.4,262.4 376.4,262.0 377.4,261.4 378.4,261.3 379.4,261.2 380.4,260.9 381.4,260.2 382.4,259.7 383.4,259.7 384.4,259.2 385.4,258.6 386.4,258.5 387.4,258.6 388.4,257.9 389.4,256.9 390.4,256.5 391.4,256.5 392.4,256.4 393.4,256.3 394.4,256.0 395.4,255.5 396.4,255.2 397.4,254.8 398.4,254.5 399.4,254.2 400.4,254.4 401.4,254.3 402.4,253.4 403.4,252.8 404.4,252.6 405.4,252.2 406.4,251.9 407.4,251.7 408.4,251.7 409.4,251.5 410.4,250.9 411.4,250.5 412.4,250.1 413.4,250.1 414.4,249.9 415.4,249.9 416.4,249.5 417.4,249.2 418.4,249.1 419.4,248.7 420.4,248.0 421.4,247.5 422.4,247.7 423.4,247.9 424.4,247.6 425.4,247.2 426.4,246.8 427.4,246.4 428.4,246.1 429.4,246.1 430.4,246.0 431.4,245.5 432.4,245.2 433.4,245.1 434.4,244.9 435.2,244.6 435.2,244.8 435.5,245.7 435.7,246.3 435.9,247.1 436.1,247.8 436.3,248.3 436.5,248.8 436.7,249.3 436.9,249.7 437.1,250.1 437.3,250.6 437.5,251.1 437.7,251.4 437.9,251.8 438.1,252.1 438.3,252.4 438.5,252.8 438.7,253.2 438.9,253.6 439.1,253.9 439.3,254.1 439.5,254.2 439.7,254.5 439.9,254.8 440.1,254.9 440.3,255.1 440.6,255.3 440.8,255.5 441.0,255.8 441.2,255.9 441.4,256.0 441.6,256.3 441.8,256.4 442.0,256.4 442.2,256.9 442.4,256.8 442.6,256.7 442.8,257.3 443.0,257.3 443.2,257.7 444.0,258.2 445.0,258.7 446.0,259.9 447.0,260.4 448.0,260.7 449.0,261.1 450.0,261.5 451.0,262.1 452.0,262.5 453.0,262.7 454.0,263.4 455.0,263.7 456.0,263.9 457.0,264.4 458.0,264.6 459.0,265.1 460.0,265.7 461.0,265.6 462.0,265.8 463.0,266.2 464.0,266.4 465.0,266.8 466.0,267.1 467.0,267.5 468.0,267.8 469.0,268.0 470.0,268.4 471.0,268.7 472.0,268.8 473.0,268.8 474.0,269.0 475.0,269.4 476.0,270.0 477.0,270.5 478.0,270.8 479.0,270.7 480.0,270.7 481.0,270.9 482.0,271.2 483.0,271.6 484.0,271.9 485.0,271.7 486.0,271.7 487.0,272.2 488.0,272.6 489.0,272.5 490.0,272.9 491.0,273.1 492.0,273.0 493.0,273.2 494.0,273.1 495.0,273.5 496.0,273.8 497.0,273.7 498.0,274.0 499.0,274.4 500.0,274.7 501.0,274.7 502.0,274.6 503.0,274.8 504.0,275.0 505.0,275.2 506.0,275.7 507.0,275.8 508.0,276.3 509.0,276.6 510.0,276.5 511.0,276.6 512.0,276.6 513.0,276.9 514.0,277.3 515.0,277.0 516.0,277.2 517.0,277.7 518.0,277.8 519.0,278.0 520.0,277.7 521.0,277.6 522.0,278.3 523.0,278.7 524.0,278.2 525.0,278.4 526.0,278.7 527.0,278.5 528.0,278.3 529.0,278.4 530.0,279.1 531.0,279.5 532.0,279.5 533.0,279.7 534.0,280.0 535.0,279.7 536.0,279.7 537.0,280.1 538.0,280.0 539.0,280.2 540.0,280.5 541.0,280.7 542.0,280.6 543.0,280.7 544.0,281.5 545.0,281.5 546.0,280.9 547.0,281.3 548.0,281.9 549.0,282.0 550.0,281.8 551.0,282.0 552.0,282.2 553.0,281.9 554.0,282.1 555.0,282.4 556.0,282.8 557.0,283.0 558.0,283.0 559.0,283.2 560.0,283.3 561.0,283.4 562.0,283.3 563.0,282.9 564.0,283.4 565.0,283.6 566.0,283.5 567.0,283.8 568.0,283.9 569.0,283.9 570.0,284.4 571.0,284.1 572.0,284.1 573.0,285.1 574.0,285.1 575.0,284.7 576.0,285.0 577.0,285.4 578.0,285.1 579.0,284.9 580.0,285.2 581.0,285.4 582.0,285.5 583.0,285.6 584.0,285.6 585.0,285.6 586.0,285.6 587.0,285.6 588.0,285.8 589.0,286.0 590.0,285.8 591.0,286.3 592.0,286.6 593.0,286.1 594.0,286.4 595.0,286.6 596.0,286.6 597.0,286.8 598.0,286.8 599.0,286.9 600.0,286.8 601.0,286.9 602.0,287.5 603.0,287.1 604.0,286.8 605.0,287.4 606.0,287.3 607.0,287.0 608.0,287.7 609.0,288.0 610.0,288.0 611.0,288.3 612.0,288.0 613.0,288.0 614.0,288.2 615.0,288.4 616.0,288.4 617.0,288.3 618.0,288.3 619.0,288.6 620.0,288.8 621.0,288.4 622.0,288.2 623.0,288.6 624.0,288.6 625.0,288.6 626.0,288.6 627.0,288.6 628.0,289.0 629.0,289.3 630.0,289.3 631.0,289.6 632.0,289.6 633.0,289.9 634.0,290.2 635.0,289.7 636.0,289.5 637.0,288.9 638.0,289.0 639.0,289.7 640.0,290.2 641.0,289.9 642.0,290.0 643.0,290.3 644.0,290.1 645.0,289.7 646.0,289.7 647.0,290.2 648.0,290.3 649.0,290.5 650.0,290.2 651.0,290.4 652.0,290.8 653.0,290.8 654.0,291.0 655.0,291.1 656.0,291.0 657.0,290.5 658.0,290.3 659.0,290.9 660.0,291.4 661.0,291.2 662.0,291.0 663.0,291.1 664.0,291.2 665.0,291.2 666.0,291.1 667.0,291.7 668.0,291.9 669.0,291.4 670.0,291.2 671.0,291.2 672.0,291.7 673.0,292.0 674.0,291.9 675.0,291.8 676.0,291.8 677.0,291.6 678.0,292.0 679.0,292.4 680.0,292.7 681.0,292.5 682.0,292.0 683.0,292.4 684.0,292.4 685.0,292.0 686.0,291.9 687.0,292.3 688.0,292.6 689.0,292.6 690.0,292.8 691.0,293.0 692.0,293.0 693.0,292.8 694.0,292.7 695.0,292.9 696.0,293.2 697.0,293.1 698.0,293.1 699.0,293.1 700.0,292.7 701.0,292.6 702.0,293.1 703.0,293.5 704.0,293.7 705.0,293.6 706.0,293.5 707.0,293.9 708.0,293.9 709.0,293.6 710.0,293.4 711.0,293.6 712.0,293.5 713.0,293.6 714.0,294.0 715.0,293.9 716.0,294.1 717.0,294.2 718.0,293.8 718.4,293.8" stroke="#555" stroke-width="4.9"/>
<path d="M154.4,509.0 154.7,504.9 155.0,501.1 155.3,497.3 155.4,496.4 155.6,493.7 155.9,490.3 156.2,487.0 156.4,485.4 156.6,483.9 156.9,480.8 157.2,477.9 157.4,475.7 157.5,475.0 157.8,472.2 158.1,469.6 158.4,467.0 158.7,464.5 159.0,462.1 159.3,459.9 159.4,459.3 159.6,457.5 159.9,455.3 160.2,453.2 160.4,452.2 160.6,451.3 160.9,449.2 161.2,447.4 161.4,446.0 161.5,445.5 161.8,443.6 162.1,441.9 162.4,440.2 162.7,438.5 163.0,436.9 163.3,435.3 163.4,434.9 163.6,433.7 163.9,432.3 164.2,430.8 164.4,430.1 164.6,429.3 164.9,428.0 165.2,426.6 165.4,425.5 165.5,425.1 165.8,423.8 166.1,422.5 166.4,421.3 167.4,417.4 168.4,413.6 169.4,410.1 170.4,406.9 171.4,403.7 172.4,400.6 173.4,397.7 174.4,394.9 175.4,392.0 176.4,389.4 177.4,386.9 178.4,384.5 179.4,382.1 180.4,379.7 181.4,377.2 182.4,374.9 183.4,372.6 184.4,370.5 185.4,368.3 186.4,366.2 187.4,364.2 188.4,362.2 189.4,360.2 190.4,358.1 191.4,356.0 192.4,354.1 193.4,352.4 194.4,350.7 195.4,348.7 196.4,346.9 197.4,345.1 198.4,343.4 199.4,341.7 200.4,339.8 201.4,338.2 202.4,336.5 203.4,334.7 204.4,333.0 205.4,331.5 206.4,330.0 207.4,328.4 208.4,326.8 209.4,325.4 210.4,323.9 211.4,322.2 212.4,320.9 213.4,319.7 214.4,318.1 215.4,316.4 216.4,315.0 217.4,313.8 218.4,312.5 219.4,311.2 220.4,309.8 221.4,308.4 222.4,307.2 223.4,305.9 224.4,304.7 225.4,303.4 226.4,302.2 227.4,300.7 228.4,299.5 229.4,298.3 230.4,297.2 231.4,296.2 232.4,295.3 233.4,294.0 234.4,292.7 235.4,291.5 236.4,290.5 237.4,289.5 238.4,288.6 239.4,287.4 240.4,286.3 241.4,285.0 242.4,283.9 243.4,283.0 244.4,282.1 245.4,281.3 246.4,280.2 247.4,279.2 248.4,278.5 249.4,277.4 250.4,276.2 251.4,275.4 252.4,274.5 253.4,273.6 254.4,272.8 255.4,272.2 256.4,271.0 257.4,270.0 258.4,269.3 259.4,268.4 260.4,267.6 261.4,266.7 262.4,266.0 263.4,265.2 264.4,264.3 265.4,263.5 266.4,262.7 267.4,261.9 268.4,261.3 269.4,260.5 270.4,259.7 271.4,258.9 272.4,258.0 273.4,257.2 274.4,256.4 275.4,255.8 276.4,255.2 277.4,254.3 278.4,253.7 279.4,253.2 280.4,252.3 281.4,251.7 282.4,251.3 283.4,250.4 284.4,249.8 285.4,249.2 286.4,248.3 287.4,248.0 288.4,247.3 289.4,246.3 290.4,245.9 291.4,245.2 292.4,244.4 293.4,244.0 294.4,243.7 295.4,242.9 296.4,242.0 297.4,241.6 298.4,241.1 299.4,240.2 300.4,239.7 301.4,239.3 302.4,238.7 303.4,238.3 304.4,237.8 305.4,237.1 306.4,236.5 307.4,235.7 308.4,235.1 309.4,234.8 310.4,234.2 311.4,233.6 312.4,233.0 313.4,232.7 314.4,232.6 315.4,231.8 316.4,231.0 317.4,230.6 318.4,230.2 319.4,229.8 320.4,229.1 321.4,228.5 322.4,228.0 323.4,227.4 324.4,227.0 325.4,226.5 326.4,226.0 327.4,225.7 328.4,225.3 329.4,224.8 330.4,224.3 331.4,223.7 332.4,223.2 333.4,222.8 334.4,222.3 335.4,221.9 336.4,221.5 337.4,220.8 338.4,220.2 339.4,219.9 340.4,219.6 341.4,219.1 342.4,218.3 343.4,217.9 344.4,217.8 345.4,217.5 346.4,216.8 347.4,216.5 348.4,215.8 349.4,215.4 350.4,215.3 351.4,214.9 352.4,214.6 353.4,214.1 354.4,213.6 355.4,213.2 356.4,212.8 357.4,212.7 358.4,212.3 359.4,211.7 360.4,211.1 361.4,210.6 362.4,210.5 363.4,210.0 364.4,209.3 365.4,209.1 366.4,208.7 367.4,208.7 368.4,208.0 369.4,207.3 370.4,207.4 371.4,206.8 372.4,206.2 373.4,206.1 374.4,206.1 375.4,205.5 376.4,204.6 377.4,204.5 378.4,204.6 379.4,204.1 380.4,203.1 381.4,203.0 382.4,203.0 383.4,202.5 384.4,202.2 385.4,201.6 386.4,201.2 387.4,201.1 388.4,201.0 389.4,200.1 390.4,199.4 391.4,199.6 392.4,199.4 393.4,198.5 394.4,198.2 395.4,198.1 396.4,197.7 397.4,197.3 398.4,196.9 399.4,196.6 400.4,196.3 401.4,195.9 402.4,195.5 403.4,195.2 404.4,195.1 405.4,194.9 406.4,194.3 407.4,194.0 408.4,193.7 409.4,193.5 410.4,193.2 411.4,192.9 412.4,192.7 413.4,192.1 414.4,191.5 415.4,191.3 416.4,191.1 417.4,190.6 418.4,190.0 419.4,189.4 420.4,189.3 421.4,189.4 422.4,189.2 423.4,188.5 424.4,188.2 425.4,188.0 426.4,187.6 427.4,187.4 428.4,186.9 429.4,186.4 430.4,185.9 431.4,185.5 432.4,185.2 433.4,185.1 434.4,185.1 435.0,184.8 435.1,185.2 435.3,186.4 435.5,187.5 435.7,188.7 435.9,189.8 436.1,190.8 436.3,191.8 436.5,192.7 436.7,193.7 436.9,194.5 437.1,195.4 437.3,196.3 437.5,197.0 437.7,197.6 437.9,198.2 438.1,198.9 438.3,199.6 438.5,200.1 438.7,200.8 438.9,201.5 439.1,202.0 439.3,202.4 439.5,202.9 439.7,203.5 439.9,203.9 440.1,204.2 440.4,204.9 440.6,205.4 440.8,205.6 441.0,206.0 441.2,206.2 441.4,206.6 441.6,207.1 441.8,207.3 442.0,207.6 442.2,208.0 442.4,208.4 442.6,208.4 442.8,208.4 443.0,208.6 444.0,209.7 445.0,210.7 446.0,211.3 447.0,211.5 448.0,211.7 449.0,212.3 450.0,213.0 451.0,213.4 452.0,213.9 453.0,214.6 454.0,215.0 455.0,215.2 456.0,215.3 457.0,215.8 458.0,216.5 459.0,216.9 460.0,217.2 461.0,217.5 462.0,218.1 463.0,218.5 464.0,218.8 465.0,219.0 466.0,219.2 467.0,219.8 468.0,220.0 469.0,220.2 470.0,220.6 471.0,221.3 472.0,221.7 473.0,222.1 474.0,222.3 475.0,222.4 476.0,222.5 477.0,222.7 478.0,223.5 479.0,223.9 480.0,224.1 481.0,224.5 482.0,224.6 483.0,224.8 484.0,225.1 485.0,225.5 486.0,225.8 487.0,226.1 488.0,226.3 489.0,226.3 490.0,226.5 491.0,226.8 492.0,227.2 493.0,227.3 494.0,227.3 495.0,228.4 496.0,228.6 497.0,228.2 498.0,228.5 499.0,229.2 500.0,229.4 501.0,229.5 502.0,229.8 503.0,229.9 504.0,230.6 505.0,230.9 506.0,230.5 507.0,230.7 508.0,231.0 509.0,231.4 510.0,231.7 511.0,231.9 512.0,231.7 513.0,232.0 514.0,232.4 515.0,232.4 516.0,232.4 517.0,232.6 518.0,232.9 519.0,233.2 520.0,233.3 521.0,233.5 522.0,234.0 523.0,234.0 524.0,234.0 525.0,234.3 526.0,234.7 527.0,234.6 528.0,234.6 529.0,234.9 530.0,235.1 531.0,235.7 532.0,235.9 533.0,235.9 534.0,236.1 535.0,236.6 536.0,237.1 537.0,237.1 538.0,236.9 539.0,236.6 540.0,237.2 541.0,237.6 542.0,237.5 543.0,237.8 544.0,237.8 545.0,238.0 546.0,238.4 547.0,238.5 548.0,238.5 549.0,238.7 550.0,238.9 551.0,239.1 552.0,239.6 553.0,239.7 554.0,239.8 555.0,239.9 556.0,239.5 557.0,239.6 558.0,240.2 559.0,240.3 560.0,240.4 561.0,240.3 562.0,240.4 563.0,240.9 564.0,241.4 565.0,241.3 566.0,241.1 567.0,241.6 568.0,241.7 569.0,242.0 570.0,242.3 571.0,241.9 572.0,242.2 573.0,242.8 574.0,242.5 575.0,242.6 576.0,243.0 577.0,243.1 578.0,243.2 579.0,242.8 580.0,243.1 581.0,243.7 582.0,244.1 583.0,244.4 584.0,244.3 585.0,244.1 586.0,244.0 587.0,244.1 588.0,244.1 589.0,244.3 590.0,244.1 591.0,244.3 592.0,244.9 593.0,245.5 594.0,245.8 595.0,245.3 596.0,245.4 597.0,245.4 598.0,245.3 599.0,245.3 600.0,245.8 601.0,246.4 602.0,246.0 603.0,246.0 604.0,246.5 605.0,246.7 606.0,246.8 607.0,246.6 608.0,246.5 609.0,246.8 610.0,247.3 611.0,247.2 612.0,246.9 613.0,247.4 614.0,247.6 615.0,247.7 616.0,248.0 617.0,248.1 618.0,248.5 619.0,248.6 620.0,248.5 621.0,248.3 622.0,248.1 623.0,248.5 624.0,249.1 625.0,249.3 626.0,249.6 627.0,249.5 628.0,249.2 629.0,249.4 630.0,249.5 631.0,249.4 632.0,249.3 633.0,249.6 634.0,249.7 635.0,249.7 636.0,249.8 637.0,250.0 638.0,250.2 639.0,250.2 640.0,250.2 641.0,250.1 642.0,250.7 643.0,250.8 644.0,250.6 645.0,250.8 646.0,250.5 647.0,250.7 648.0,251.3 649.0,251.2 650.0,251.3 651.0,251.5 652.0,251.3 653.0,251.5 654.0,251.7 655.0,252.2 656.0,252.1 657.0,251.9 658.0,252.5 659.0,252.1 660.0,251.7 661.0,252.3 662.0,252.6 663.0,252.7 664.0,253.1 665.0,253.0 666.0,252.7 667.0,252.3 668.0,252.7 669.0,253.1 670.0,253.3 671.0,253.6 672.0,253.3 673.0,253.7 674.0,254.3 675.0,254.2 676.0,253.9 677.0,253.7 678.0,254.0 679.0,254.1 680.0,254.0 681.0,254.3 682.0,254.7 683.0,254.7 684.0,254.7 685.0,255.0 686.0,255.2 687.0,254.5 688.0,254.4 689.0,255.0 690.0,255.5 691.0,255.5 692.0,255.4 693.0,255.4 694.0,255.6 695.0,255.8 696.0,255.6 697.0,255.7 698.0,256.0 699.0,256.1 700.0,255.8 701.0,256.1 702.0,256.4 703.0,256.4 704.0,256.7 705.0,257.0 706.0,257.2 707.0,256.9 708.0,256.8 709.0,256.7 710.0,257.2 711.0,257.6 712.0,257.7 713.0,257.6 714.0,257.0 715.0,257.5 716.0,258.0 717.0,257.8 718.0,257.9 718.4,258.0" stroke="#262626" stroke-width="4.9"/>
<path d="M154.4,509.0 154.7,503.9 155.0,499.1 155.3,494.6 155.4,493.6 155.6,490.4 155.9,486.3 156.2,482.5 156.4,480.7 156.6,478.8 156.9,475.3 157.2,472.0 157.4,469.6 157.5,468.8 157.8,465.8 158.1,462.9 158.4,460.0 158.7,457.3 159.0,454.7 159.3,452.2 159.4,451.6 159.6,449.8 159.9,447.4 160.2,445.1 160.4,444.0 160.6,442.9 160.9,440.7 161.2,438.6 161.4,437.1 161.5,436.7 161.8,434.7 162.1,432.7 162.4,430.8 162.7,428.9 163.0,427.1 163.3,425.3 163.4,424.9 163.6,423.6 163.9,421.9 164.2,420.1 164.4,419.3 164.6,418.5 164.9,416.9 165.2,415.4 165.4,414.2 165.5,413.8 165.8,412.3 166.1,410.9 166.4,409.3 167.4,404.7 168.4,400.2 169.4,395.9 170.4,391.8 171.4,387.8 172.4,384.0 173.4,380.4 174.4,376.9 175.4,373.4 176.4,370.1 177.4,367.0 178.4,363.9 179.4,360.9 180.4,358.0 181.4,355.1 182.4,352.2 183.4,349.6 184.4,347.0 185.4,344.5 186.4,342.1 187.4,339.8 188.4,337.3 189.4,335.1 190.4,333.0 191.4,330.9 192.4,328.7 193.4,326.7 194.4,324.6 195.4,322.6 196.4,320.7 197.4,319.1 198.4,317.2 199.4,315.4 200.4,313.7 201.4,311.8 202.4,310.3 203.4,308.8 204.4,307.2 205.4,305.4 206.4,303.9 207.4,302.5 208.4,301.2 209.4,299.8 210.4,298.2 211.4,296.7 212.4,295.3 213.4,294.0 214.4,292.8 215.4,291.6 216.4,290.3 217.4,289.0 218.4,287.7 219.4,286.7 220.4,285.4 221.4,284.0 222.4,282.9 223.4,281.9 224.4,280.7 225.4,279.8 226.4,278.6 227.4,277.6 228.4,276.5 229.4,275.5 230.4,274.7 231.4,273.5 232.4,272.3 233.4,271.3 234.4,270.3 235.4,269.6 236.4,268.4 237.4,267.5 238.4,266.5 239.4,265.4 240.4,264.4 241.4,263.9 242.4,263.2 243.4,262.1 244.4,261.1 245.4,260.3 246.4,259.3 247.4,258.3 248.4,258.0 249.4,257.1 250.4,256.0 251.4,255.3 252.4,254.4 253.4,253.5 254.4,252.9 255.4,252.1 256.4,251.2 257.4,250.4 258.4,249.6 259.4,248.9 260.4,248.2 261.4,247.6 262.4,246.6 263.4,245.5 264.4,244.8 265.4,244.5 266.4,243.6 267.4,242.5 268.4,241.8 269.4,241.4 270.4,240.7 271.4,239.8 272.4,239.3 273.4,238.8 274.4,238.1 275.4,237.2 276.4,236.5 277.4,236.0 278.4,235.5 279.4,234.6 280.4,233.7 281.4,232.9 282.4,232.5 283.4,231.9 284.4,231.3 285.4,230.8 286.4,230.0 287.4,229.4 288.4,228.8 289.4,228.0 290.4,227.3 291.4,227.1 292.4,226.3 293.4,225.4 294.4,225.1 295.4,224.5 296.4,223.6 297.4,222.9 298.4,222.5 299.4,222.2 300.4,221.7 301.4,221.0 302.4,220.4 303.4,219.7 304.4,219.0 305.4,218.4 306.4,217.9 307.4,217.5 308.4,217.1 309.4,216.3 310.4,215.7 311.4,215.3 312.4,214.4 313.4,213.9 314.4,213.3 315.4,212.8 316.4,212.5 317.4,211.9 318.4,211.4 319.4,210.9 320.4,210.3 321.4,209.6 322.4,209.1 323.4,208.7 324.4,208.1 325.4,207.7 326.4,207.3 327.4,206.5 328.4,205.8 329.4,205.5 330.4,205.3 331.4,204.9 332.4,204.4 333.4,204.1 334.4,203.5 335.4,202.9 336.4,202.2 337.4,201.6 338.4,201.2 339.4,200.9 340.4,200.5 341.4,200.0 342.4,199.5 343.4,199.1 344.4,198.7 345.4,198.2 346.4,197.7 347.4,197.2 348.4,196.5 349.4,196.2 350.4,196.0 351.4,195.4 352.4,194.9 353.4,194.8 354.4,194.3 355.4,193.5 356.4,193.2 357.4,192.7 358.4,192.2 359.4,192.2 360.4,191.9 361.4,191.3 362.4,190.9 363.4,190.4 364.4,190.0 365.4,189.6 366.4,189.0 367.4,188.6 368.4,188.4 369.4,188.0 370.4,187.6 371.4,186.8 372.4,186.5 373.4,186.8 374.4,186.4 375.4,185.6 376.4,184.9 377.4,184.6 378.4,184.2 379.4,183.9 380.4,183.6 381.4,183.2 382.4,183.1 383.4,182.3 384.4,181.8 385.4,181.6 386.4,181.0 387.4,180.6 388.4,180.4 389.4,180.3 390.4,179.8 391.4,179.4 392.4,179.6 393.4,179.2 394.4,178.6 395.4,178.2 396.4,177.6 397.4,177.3 398.4,177.2 399.4,176.9 400.4,176.9 401.4,176.5 402.4,175.9 403.4,175.7 404.4,175.0 405.4,174.3 406.4,174.1 407.4,173.9 408.4,173.7 409.4,173.4 410.4,173.3 411.4,173.2 412.4,172.8 413.4,172.1 414.4,171.8 415.4,171.7 416.4,171.1 417.4,170.7 418.4,170.7 419.4,170.4 420.4,170.2 421.4,170.1 422.4,169.4 423.4,168.9 424.4,168.6 425.4,168.4 426.4,168.1 427.4,167.8 428.4,167.7 429.4,167.4 430.4,167.1 431.4,166.4 432.4,166.4 433.4,166.3 434.4,166.0 435.4,165.8 436.1,165.3 436.2,173.4 436.4,188.6 436.6,192.8 436.8,194.2 437.0,195.0 437.2,195.7 437.4,196.2 437.6,196.7 437.8,197.3 438.0,197.9 438.2,198.2 438.4,198.6 438.6,199.1 438.8,199.6 439.0,200.1 439.2,200.5 439.4,200.9 439.6,201.3 439.8,201.8 440.0,202.1 440.2,202.4 440.4,202.7 440.6,203.1 440.8,203.6 441.0,203.9 441.2,204.2 441.5,204.4 441.7,204.4 441.9,204.8 442.1,205.2 442.3,205.5 442.5,205.8 442.7,206.1 442.9,206.4 443.1,206.6 443.3,206.5 443.5,206.7 443.7,207.2 443.9,207.3 444.1,207.2 445.0,208.3 446.0,209.1 447.0,209.4 448.0,209.8 449.0,210.6 450.0,211.4 451.0,211.8 452.0,212.3 453.0,213.0 454.0,213.6 455.0,214.2 456.0,214.5 457.0,214.5 458.0,215.0 459.0,215.9 460.0,216.4 461.0,216.5 462.0,217.2 463.0,217.3 464.0,217.4 465.0,217.8 466.0,218.0 467.0,218.5 468.0,219.0 469.0,219.2 470.0,219.2 471.0,219.4 472.0,219.8 473.0,220.3 474.0,220.6 475.0,220.8 476.0,220.9 477.0,221.6 478.0,221.9 479.0,222.1 480.0,222.5 481.0,222.6 482.0,222.5 483.0,223.0 484.0,223.6 485.0,223.8 486.0,223.7 487.0,223.6 488.0,223.8 489.0,224.2 490.0,225.0 491.0,225.5 492.0,225.5 493.0,225.7 494.0,226.1 495.0,226.3 496.0,226.5 497.0,226.8 498.0,226.6 499.0,226.7 500.0,227.6 501.0,227.8 502.0,227.8 503.0,228.0 504.0,228.2 505.0,228.7 506.0,228.9 507.0,228.8 508.0,228.5 509.0,228.8 510.0,229.3 511.0,229.3 512.0,230.0 513.0,230.6 514.0,230.4 515.0,230.6 516.0,231.2 517.0,231.2 518.0,231.4 519.0,231.5 520.0,231.3 521.0,231.6 522.0,231.8 523.0,232.4 524.0,232.6 525.0,232.4 526.0,232.7 527.0,233.1 528.0,233.4 529.0,233.7 530.0,233.9 531.0,233.7 532.0,233.9 533.0,234.3 534.0,234.4 535.0,234.7 536.0,235.3 537.0,235.4 538.0,235.2 539.0,235.8 540.0,235.8 541.0,235.6 542.0,235.7 543.0,236.1 544.0,236.6 545.0,236.7 546.0,236.7 547.0,237.2 548.0,237.5 549.0,237.2 550.0,237.2 551.0,237.6 552.0,237.9 553.0,238.0 554.0,238.0 555.0,238.1 556.0,238.0 557.0,238.3 558.0,238.7 559.0,238.9 560.0,239.0 561.0,239.0 562.0,239.1 563.0,239.2 564.0,239.6 565.0,239.9 566.0,240.0 567.0,240.0 568.0,240.1 569.0,240.2 570.0,240.2 571.0,240.6 572.0,240.9 573.0,241.2 574.0,241.2 575.0,241.5 576.0,241.7 577.0,241.8 578.0,242.0 579.0,242.1 580.0,242.0 581.0,242.2 582.0,242.3 583.0,242.5 584.0,242.9 585.0,243.1 586.0,243.0 587.0,242.7 588.0,242.9 589.0,243.3 590.0,243.6 591.0,243.7 592.0,243.6 593.0,243.9 594.0,244.0 595.0,243.9 596.0,244.5 597.0,244.9 598.0,244.8 599.0,244.7 600.0,244.6 601.0,244.7 602.0,245.0 603.0,245.1 604.0,245.1 605.0,245.2 606.0,245.4 607.0,245.6 608.0,246.0 609.0,246.1 610.0,245.6 611.0,245.5 612.0,245.6 613.0,245.8 614.0,246.3 615.0,246.6 616.0,246.5 617.0,246.6 618.0,246.7 619.0,246.5 620.0,246.4 621.0,246.7 622.0,247.3 623.0,247.3 624.0,247.4 625.0,248.0 626.0,247.8 627.0,247.7 628.0,247.7 629.0,247.8 630.0,248.1 631.0,248.2 632.0,248.4 633.0,248.7 634.0,248.7 635.0,248.6 636.0,248.7 637.0,248.8 638.0,248.7 639.0,248.8 640.0,249.1 641.0,249.0 642.0,249.4 643.0,249.5 644.0,249.0 645.0,249.3 646.0,249.2 647.0,249.1 648.0,249.3 649.0,249.3 650.0,249.7 651.0,250.0 652.0,250.3 653.0,250.5 654.0,250.6 655.0,250.7 656.0,250.4 657.0,250.6 658.0,250.7 659.0,250.4 660.0,250.9 661.0,251.3 662.0,251.1 663.0,251.2 664.0,251.4 665.0,251.0 666.0,250.9 667.0,251.0 668.0,251.2 669.0,251.3 670.0,251.7 671.0,252.0 672.0,251.6 673.0,251.6 674.0,251.6 675.0,251.7 676.0,252.1 677.0,252.2 678.0,251.8 679.0,251.7 680.0,252.3 681.0,252.5 682.0,252.7 683.0,252.4 684.0,252.4 685.0,252.6 686.0,252.6 687.0,252.9 688.0,253.0 689.0,252.9 690.0,252.9 691.0,252.8 692.0,252.6 693.0,253.0 694.0,253.3 695.0,252.9 696.0,252.8 697.0,253.2 698.0,253.8 699.0,254.0 700.0,253.9 701.0,253.4 702.0,253.3 703.0,253.8 704.0,254.0 705.0,254.0 706.0,254.0 707.0,254.3 708.0,254.7 709.0,254.4 710.0,254.0 711.0,254.5 712.0,254.6 713.0,254.5 714.0,255.0 715.0,254.7 716.0,254.4 717.0,254.6 718.0,254.7 718.4,254.8" stroke="#000" stroke-width="4.9"/>
</g>
<g stroke="#000" stroke-width="3.5" fill="none" stroke-linecap="butt">
<path d="M154.50,128.85V510.75"/>
<path d="M152.75,509.00H723.45"/>
<path d="M143.10,509.00H154.50"/>
<path d="M143.10,433.32H154.50"/>
<path d="M143.10,357.64H154.50"/>
<path d="M143.10,281.96H154.50"/>
<path d="M143.10,206.28H154.50"/>
<path d="M143.10,130.60H154.50"/>
<path d="M154.50,509.00V519.80"/>
<path d="M296.30,509.00V519.80"/>
<path d="M438.10,509.00V519.80"/>
<path d="M579.90,509.00V519.80"/>
<path d="M721.70,509.00V519.80"/>
</g>
<text transform="translate(140.20 522.10) scale(1 1.040)" font-size="42" text-anchor="end">0</text>
<text transform="translate(140.20 446.42) scale(1 1.040)" font-size="42" text-anchor="end">0.2</text>
<text transform="translate(140.20 370.74) scale(1 1.040)" font-size="42" text-anchor="end">0.4</text>
<text transform="translate(140.20 295.06) scale(1 1.040)" font-size="42" text-anchor="end">0.6</text>
<text transform="translate(140.20 219.38) scale(1 1.040)" font-size="42" text-anchor="end">0.8</text>
<text transform="translate(140.20 143.70) scale(1 1.040)" font-size="42" text-anchor="end">1.0</text>
<text transform="translate(154.50 559.60) scale(1 1.040)" font-size="42" text-anchor="middle">0</text>
<text transform="translate(296.30 559.60) scale(1 1.040)" font-size="42" text-anchor="middle">5</text>
<text transform="translate(438.10 559.60) scale(1 1.040)" font-size="42" text-anchor="middle">10</text>
<text transform="translate(579.90 559.60) scale(1 1.040)" font-size="42" text-anchor="middle">15</text>
<text transform="translate(721.70 559.60) scale(1 1.040)" font-size="42" text-anchor="middle">20</text>
<text transform="translate(343.08 614.40) scale(1 1.035)" font-size="40.8">Time (min)</text>
<text transform="translate(57.5 319.8) rotate(-90) scale(1 1.03)" font-size="40.5" text-anchor="middle">Shift (nm)</text>
<text transform="translate(0 155.90) scale(1 1.040)" style="stroke:none"><tspan x="175.94" font-size="42.7" class="b">Hsp104</tspan><tspan x="328.43" font-size="31" dy="4.62" class="b">N</tspan></text>
<text transform="translate(0 237.00) scale(1 1.040)" style="stroke-width:0.1px"><tspan x="722.52" font-size="32">137 </tspan><tspan x="784.84" font-size="33" class="mu">µ</tspan><tspan x="804.07" font-size="32">M</tspan></text>
<text transform="translate(0 273.30) scale(1 1.040)" style="fill:#3a3a3a;stroke:#3a3a3a;stroke-width:0.1px"><tspan x="740.10" font-size="32">68 </tspan><tspan x="784.84" font-size="33" class="mu">µ</tspan><tspan x="804.07" font-size="32">M</tspan></text>
<text transform="translate(0 309.40) scale(1 1.040)" style="fill:#565656;stroke:#565656;stroke-width:0.1px"><tspan x="739.64" font-size="32">34 </tspan><tspan x="784.84" font-size="33" class="mu">µ</tspan><tspan x="804.07" font-size="32">M</tspan></text>
<text transform="translate(0 351.80) scale(1 1.040)" style="fill:#5e5e5e;stroke:#5e5e5e;stroke-width:0.1px"><tspan x="740.32" font-size="32">17 </tspan><tspan x="784.84" font-size="33" class="mu">µ</tspan><tspan x="804.07" font-size="32">M</tspan></text>
<text transform="translate(0 400.90) scale(1 1.040)" style="fill:#8a8a8a;stroke:#8a8a8a;stroke-width:0.1px"><tspan x="731.16" font-size="32">8.5 </tspan><tspan x="784.84" font-size="33" class="mu">µ</tspan><tspan x="804.07" font-size="32">M</tspan></text>
<text transform="translate(0 446.70) scale(1 1.040)" style="fill:#b0b0b0;stroke:#b0b0b0;stroke-width:0.1px"><tspan x="731.22" font-size="32">4.3 </tspan><tspan x="784.84" font-size="33" class="mu">µ</tspan><tspan x="804.07" font-size="32">M</tspan></text>
<text transform="translate(0 483.20) scale(1 1.040)" style="stroke-width:0.1px"><tspan x="722.16" font-size="32">250 </tspan><tspan x="784.84" font-size="33" class="mu">µ</tspan><tspan x="804.07" font-size="32">M</tspan></text>
<text transform="translate(763.23 520.30) scale(1 1.040)" font-size="32" style="stroke-width:0.1px">BSA</text>
<g stroke="#000" stroke-width="3.5" fill="none" stroke-linecap="butt">
<path d="M1042.30,128.15V510.55"/>
<path d="M1040.55,508.80H1612.95"/>
<path d="M1030.90,508.80H1042.30"/>
<path d="M1030.90,433.02H1042.30"/>
<path d="M1030.90,357.24H1042.30"/>
<path d="M1030.90,281.46H1042.30"/>
<path d="M1030.90,205.68H1042.30"/>
<path d="M1030.90,129.90H1042.30"/>
<path d="M1042.30,508.80V519.60"/>
<path d="M1231.93,508.80V519.60"/>
<path d="M1421.57,508.80V519.60"/>
<path d="M1611.20,508.80V519.60"/>
</g>
<text transform="translate(1028.60 522.30) scale(1 1.040)" font-size="42" text-anchor="end">0</text>
<text transform="translate(1028.60 446.52) scale(1 1.040)" font-size="42" text-anchor="end">0.2</text>
<text transform="translate(1028.60 370.74) scale(1 1.040)" font-size="42" text-anchor="end">0.4</text>
<text transform="translate(1028.60 294.96) scale(1 1.040)" font-size="42" text-anchor="end">0.6</text>
<text transform="translate(1028.60 219.18) scale(1 1.040)" font-size="42" text-anchor="end">0.8</text>
<text transform="translate(1028.60 143.40) scale(1 1.040)" font-size="42" text-anchor="end">1.0</text>
<text transform="translate(1042.30 559.60) scale(1 1.040)" font-size="42" text-anchor="middle">0</text>
<text transform="translate(1231.93 559.60) scale(1 1.040)" font-size="42" text-anchor="middle">50</text>
<text transform="translate(1421.57 559.60) scale(1 1.040)" font-size="42" text-anchor="middle">100</text>
<text transform="translate(1611.20 559.60) scale(1 1.040)" font-size="42" text-anchor="middle">150</text>
<g stroke="#000" stroke-width="3.3" fill="none" stroke-linecap="round">
<path d="M1058.5,360.1V427.1M1051.0,360.1H1066.0M1051.0,427.1H1066.0"/>
<path d="M1106.4,294.3V311.0M1098.9,294.3H1113.9M1098.9,311.0H1113.9"/>
<path d="M1170.5,212.5V249.6M1163.0,212.5H1178.0M1163.0,249.6H1178.0"/>
<path d="M1299.4,146.2V190.1M1291.9,146.2H1306.9M1291.9,190.1H1306.9"/>
<path d="M1561.9,139.0V168.9M1554.4,139.0H1569.4M1554.4,168.9H1569.4"/>
</g>
<circle cx="1042.3" cy="508.8" r="7.6" fill="#000"/>
<circle cx="1058.5" cy="393.6" r="7.6" fill="#000"/>
<circle cx="1074.5" cy="368.0" r="7.6" fill="#000"/>
<circle cx="1106.4" cy="302.5" r="7.6" fill="#000"/>
<circle cx="1170.5" cy="231.6" r="7.6" fill="#000"/>
<circle cx="1299.4" cy="168.3" r="7.6" fill="#000"/>
<circle cx="1561.9" cy="154.1" r="7.6" fill="#000"/>
<path d="M1062.5,399.5 1063.0,397.7 1063.4,395.9 1063.9,394.0 1064.4,392.3 1064.9,390.4" fill="none" stroke="#fff" stroke-width="1.7"/>
<path d="M1069.8,373.3 1070.6,370.8 1071.4,368.2 1072.2,365.8 1073.0,363.4 1073.8,361.0" fill="none" stroke="#fff" stroke-width="1.7"/>
<path d="M1099.3,303.4 1100.2,301.8 1101.1,300.3 1102.0,298.8 1103.0,297.3 1103.9,295.8" fill="none" stroke="#fff" stroke-width="1.7"/>
<path d="M1163.6,233.6 1165.9,232.1 1168.2,230.5 1170.5,229.1 1172.8,227.6 1175.2,226.2" fill="none" stroke="#fff" stroke-width="1.7"/>
<g fill="none" stroke="#000" stroke-linecap="round" stroke-linejoin="round">
<path d="M1042.6,506.8 1042.8,504.8 1043.1,502.8 1043.4,500.8 1043.7,498.7 1044.0,496.7" stroke-width="3.21"/>
<path d="M1045.1,488.6 1045.4,486.6 1045.8,484.6 1046.1,482.6 1046.4,480.5 1046.7,478.5" stroke-width="3.22"/>
<path d="M1048.0,470.4 1048.3,468.4 1048.7,466.4 1049.0,464.4 1049.3,462.4 1049.7,460.4" stroke-width="3.22"/>
<path d="M1051.1,452.3 1051.5,450.3 1051.9,448.3 1052.2,446.3 1052.6,444.3 1053.0,442.3" stroke-width="3.22"/>
<path d="M1054.6,434.2 1055.0,432.2 1055.4,430.2 1055.8,428.2 1056.3,426.3 1056.7,424.3" stroke-width="3.23"/>
<path d="M1058.5,416.2 1058.9,414.3 1059.4,412.3 1059.8,410.3 1060.3,408.3 1060.8,406.3" stroke-width="3.24"/>
<path d="M1062.8,398.3 1063.3,396.4 1063.8,394.4 1064.3,392.5 1064.9,390.5 1065.4,388.5" stroke-width="3.25"/>
<path d="M1067.7,380.6 1068.2,378.7 1068.8,376.7 1069.4,374.8 1070.0,372.8 1070.6,370.9" stroke-width="3.26"/>
<path d="M1073.1,363.0 1073.8,361.1 1074.4,359.2 1075.1,357.3 1075.8,355.4 1076.5,353.5" stroke-width="3.28"/>
<path d="M1079.4,345.7 1080.1,343.8 1080.8,342.0 1081.6,340.1 1082.4,338.2 1083.1,336.4" stroke-width="3.30"/>
<path d="M1086.4,328.7 1087.3,326.9 1088.1,325.1 1089.0,323.3 1089.8,321.4 1090.7,319.6" stroke-width="3.33"/>
<path d="M1094.5,312.2 1095.4,310.4 1096.4,308.7 1097.3,306.9 1098.3,305.1 1099.3,303.4" stroke-width="3.36"/>
<path d="M1103.6,296.2 1104.7,294.5 1105.7,292.8 1106.8,291.2 1107.9,289.5 1109.0,287.9" stroke-width="3.41"/>
<path d="M1113.9,281.0 1115.1,279.4 1116.3,277.8 1117.5,276.3 1118.8,274.7 1120.0,273.2" stroke-width="3.47"/>
<path d="M1125.5,266.7 1126.9,265.3 1128.2,263.8 1129.5,262.4 1130.9,260.9 1132.3,259.5" stroke-width="3.53"/>
<path d="M1138.4,253.6 1139.8,252.3 1141.3,251.0 1142.8,249.7 1144.3,248.4 1145.7,247.1" stroke-width="3.59"/>
<path d="M1152.4,241.7 1154.0,240.5 1155.5,239.3 1157.1,238.2 1158.7,237.0 1160.3,235.9" stroke-width="3.65"/>
<path d="M1167.4,231.0 1169.1,230.0 1170.7,228.9 1172.3,227.9 1174.0,226.9 1175.6,225.9" stroke-width="3.70"/>
<path d="M1183.2,221.6 1184.9,220.6 1186.6,219.7 1188.3,218.8 1190.0,217.9 1191.7,217.0" stroke-width="3.75"/>
<path d="M1199.6,213.2 1201.3,212.4 1203.1,211.6 1204.8,210.8 1206.6,210.0 1208.4,209.3" stroke-width="3.78"/>
<path d="M1216.5,205.9 1218.2,205.2 1220.0,204.5 1221.8,203.8 1223.6,203.1 1225.4,202.4" stroke-width="3.81"/>
<path d="M1233.7,199.4 1235.5,198.8 1237.3,198.2 1239.1,197.6 1240.9,197.0 1242.8,196.4" stroke-width="3.83"/>
<path d="M1251.2,193.8 1253.0,193.2 1254.9,192.7 1256.7,192.1 1258.5,191.6 1260.4,191.1" stroke-width="3.85"/>
<path d="M1268.9,188.8 1270.7,188.3 1272.6,187.8 1274.4,187.3 1276.3,186.9 1278.1,186.4" stroke-width="3.86"/>
<path d="M1286.8,184.3 1288.6,183.9 1290.5,183.5 1292.3,183.0 1294.2,182.6 1296.1,182.2" stroke-width="3.87"/>
<path d="M1304.7,180.4 1306.6,180.0 1308.5,179.6 1310.3,179.2 1312.2,178.9 1314.1,178.5" stroke-width="3.87"/>
<path d="M1322.8,176.8 1324.7,176.5 1326.5,176.2 1328.4,175.8 1330.3,175.5 1332.2,175.2" stroke-width="3.88"/>
<path d="M1340.9,173.7 1342.8,173.4 1344.7,173.1 1346.5,172.8 1348.4,172.5 1350.3,172.2" stroke-width="3.88"/>
<path d="M1359.1,170.8 1361.0,170.6 1362.9,170.3 1364.7,170.0 1366.6,169.7 1368.5,169.5" stroke-width="3.89"/>
<path d="M1377.3,168.2 1379.2,168.0 1381.1,167.7 1383.0,167.5 1384.9,167.2 1386.7,167.0" stroke-width="3.89"/>
<path d="M1395.6,165.9 1397.4,165.6 1399.3,165.4 1401.2,165.2 1403.1,164.9 1405.0,164.7" stroke-width="3.89"/>
<path d="M1413.8,163.7 1415.7,163.5 1417.6,163.3 1419.5,163.0 1421.4,162.8 1423.3,162.6" stroke-width="3.89"/>
<path d="M1432.1,161.6 1434.0,161.4 1435.9,161.2 1437.8,161.0 1439.7,160.8 1441.6,160.6" stroke-width="3.89"/>
<path d="M1450.4,159.7 1452.3,159.5 1454.2,159.3 1456.1,159.2 1458.0,159.0 1459.9,158.8" stroke-width="3.89"/>
<path d="M1468.7,157.9 1470.6,157.7 1472.5,157.6 1474.4,157.4 1476.3,157.2 1478.2,157.0" stroke-width="3.89"/>
<path d="M1487.0,156.2 1488.9,156.0 1490.8,155.8 1492.7,155.7 1494.6,155.5 1496.5,155.3" stroke-width="3.89"/>
<path d="M1505.4,154.5 1507.3,154.4 1509.2,154.2 1511.0,154.0 1512.9,153.9 1514.8,153.7" stroke-width="3.89"/>
<path d="M1523.7,153.0 1525.6,152.8 1527.5,152.6 1529.4,152.5 1531.3,152.3 1533.2,152.2" stroke-width="3.90"/>
<path d="M1542.0,151.4 1543.9,151.3 1545.8,151.1 1547.7,151.0 1549.6,150.8 1551.5,150.7" stroke-width="3.90"/>
</g>
<text transform="translate(945.5 319.8) rotate(-90) scale(1 1.03)" font-size="40.5" text-anchor="middle">Shift (nm)</text>
<text transform="translate(0 616.00) scale(1 1.035)"><tspan x="1082.18" font-size="40.5">Protein concentration </tspan><tspan x="1487.43" font-size="41.5">(</tspan><tspan x="1501.63" font-size="42.5" class="mu" style="stroke:none">µ</tspan><tspan x="1523.35" font-size="42">M)</tspan></text>
<text transform="translate(0 307.90) scale(1 1.040)" style="stroke:none"><tspan x="1348.04" font-size="42.7" class="b">Hsp104</tspan><tspan x="1501.43" font-size="31" dy="4.71" class="b">N</tspan></text>
<text transform="translate(0 366.40) scale(1 1.040)"><tspan x="1277.96" font-size="43.1">K</tspan><tspan x="1308.16" font-size="31" dy="9.23">D</tspan><tspan x="1330.20" font-size="43.1" dy="-9.23">=14.0±1.7 </tspan><tspan x="1535.78" font-size="44" class="mu" style="stroke:none">µ</tspan><tspan x="1559.26" font-size="44">M</tspan></text>
</svg></body></html>
